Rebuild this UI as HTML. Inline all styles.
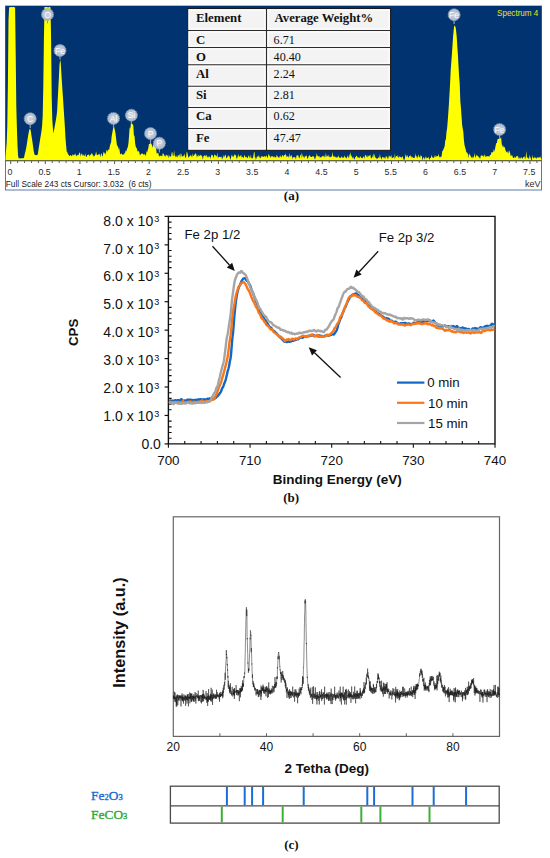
<!DOCTYPE html>
<html><head><meta charset="utf-8"><style>
html,body{margin:0;padding:0;background:#fff;}
body{width:550px;height:858px;overflow:hidden;}
svg{display:block;font-family:"Liberation Sans",sans-serif;}
</style></head><body>
<svg width="550" height="858" viewBox="0 0 550 858">
<defs><radialGradient id="lg" cx="0.5" cy="0.5" r="0.5"><stop offset="0" stop-color="#cdd5e1"/><stop offset="0.75" stop-color="#b4bfd0"/><stop offset="1" stop-color="#a3b0c4"/></radialGradient></defs>
<rect x="5.5" y="6.0" width="536.0" height="184.0" fill="#fff" stroke="#5a7aa6" stroke-width="1"/>
<rect x="5.5" y="6.0" width="536.0" height="154.5" fill="#013370"/>
<path d="M5.5,160.5 L5.5,157.24 L6.1,149.66 L6.7,142.43 L7.3,125.27 L7.9,82.77 L8.5,20.14 L9.1,7.68 L9.7,7.02 L10.3,7.16 L10.9,7 L11.5,7 L12.1,7 L12.7,7.14 L13.3,7 L13.9,7.12 L14.5,7.44 L15.1,7.37 L15.7,53.56 L16.3,106.26 L16.9,127.76 L17.5,145.33 L18.1,155.81 L18.7,158.57 L19.3,158.14 L19.9,158.17 L20.5,158.53 L21.1,158.42 L21.7,157.96 L22.3,158.22 L22.9,158.34 L23.5,158.13 L24.1,157.2 L24.7,154.15 L25.3,152.08 L25.9,149.51 L26.5,146.13 L27.1,142.47 L27.7,138.22 L28.3,134.75 L28.9,131.48 L29.5,129.21 L30.1,128.59 L30.7,130.45 L31.3,134.72 L31.9,138.31 L32.5,142.23 L33.1,146.55 L33.7,150.95 L34.3,153.74 L34.9,155.04 L35.5,154.89 L36.1,155.14 L36.7,155.06 L37.3,155.21 L37.9,153.8 L38.5,149.41 L39.1,145.84 L39.7,142.11 L40.3,138.31 L40.9,134.87 L41.5,131 L42.1,125.97 L42.7,115.56 L43.3,86.67 L43.9,40.05 L44.5,7 L45.1,7 L45.7,7 L46.3,7.35 L46.9,7 L47.5,7 L48.1,7.84 L48.7,7 L49.3,7 L49.9,7 L50.5,7.45 L51.1,39.94 L51.7,96.21 L52.3,119.67 L52.9,127.97 L53.5,133.4 L54.1,129.85 L54.7,126.59 L55.3,123.22 L55.9,119.86 L56.5,116.2 L57.1,111.4 L57.7,99.92 L58.3,88.75 L58.9,77.44 L59.5,64.83 L60.1,59.99 L60.7,62.48 L61.3,72.3 L61.9,81.75 L62.5,90.99 L63.1,99.49 L63.7,109.02 L64.3,118.04 L64.9,127.21 L65.5,138.18 L66.1,145.34 L66.7,151.41 L67.3,152.03 L67.9,153.9 L68.5,154.61 L69.1,155.68 L69.7,156.04 L70.3,155.17 L70.9,155.12 L71.5,156.29 L72.1,156.05 L72.7,154.02 L73.3,154.96 L73.9,155.4 L74.5,153.98 L75.1,155.68 L75.7,152.89 L76.3,156.59 L76.9,155.57 L77.5,155.28 L78.1,154.54 L78.7,155.15 L79.3,152.7 L79.9,152.61 L80.5,156.97 L81.1,152.52 L81.7,155.02 L82.3,153.95 L82.9,156.25 L83.5,154.17 L84.1,156.27 L84.7,155.43 L85.3,153.26 L85.9,156.87 L86.5,157.12 L87.1,155.16 L87.7,154.88 L88.3,155.03 L88.9,153.96 L89.5,156.66 L90.1,154.52 L90.7,155.16 L91.3,152.81 L91.9,154.4 L92.5,153.55 L93.1,156.85 L93.7,155.01 L94.3,156.46 L94.9,155.22 L95.5,154.3 L96.1,151.18 L96.7,154.47 L97.3,155.21 L97.9,154.71 L98.5,154.81 L99.1,153.4 L99.7,154.14 L100.3,157.32 L100.9,154.28 L101.5,153.03 L102.1,155.53 L102.7,156.86 L103.3,153.06 L103.9,151.42 L104.5,153.85 L105.1,152.16 L105.7,155.13 L106.3,150.93 L106.9,149.4 L107.5,152.08 L108.1,148.97 L108.7,150.19 L109.3,149.19 L109.9,145.82 L110.5,143.66 L111.1,142.55 L111.7,136.07 L112.3,133.06 L112.9,129.31 L113.5,126.91 L114.1,126.82 L114.7,129.39 L115.3,132.3 L115.9,136.55 L116.5,142.08 L117.1,145.95 L117.7,145.57 L118.3,149.87 L118.9,146.64 L119.5,150.1 L120.1,153.85 L120.7,154.38 L121.3,153.27 L121.9,154.05 L122.5,154.7 L123.1,154.69 L123.7,154.59 L124.3,152.43 L124.9,154.46 L125.5,150.13 L126.1,151.83 L126.7,149.88 L127.3,148.31 L127.9,146.81 L128.5,142.7 L129.1,135.02 L129.7,126.93 L130.3,128.88 L130.9,123.44 L131.5,123.41 L132.1,123.49 L132.7,124.53 L133.3,125.14 L133.9,135.39 L134.5,135.86 L135.1,143.03 L135.7,146.49 L136.3,147.65 L136.9,148.48 L137.5,151.44 L138.1,151.29 L138.7,151.08 L139.3,152.23 L139.9,155.06 L140.5,154.95 L141.1,153.34 L141.7,153.9 L142.3,153.51 L142.9,153.64 L143.5,154.97 L144.1,153.56 L144.7,154.82 L145.3,154.48 L145.9,156.19 L146.5,150.83 L147.1,152.85 L147.7,150.03 L148.3,148.19 L148.9,144.24 L149.5,143.72 L150.1,144.2 L150.7,141.57 L151.3,144.04 L151.9,144.85 L152.5,147.99 L153.1,144.28 L153.7,144.8 L154.3,146.92 L154.9,145.66 L155.5,144.89 L156.1,148.35 L156.7,153.68 L157.3,153.36 L157.9,152.79 L158.5,153.74 L159.1,156.81 L159.7,155.75 L160.3,155.72 L160.9,155.65 L161.5,155.82 L162.1,156.85 L162.7,153.24 L163.3,153.39 L163.9,154.5 L164.5,156.54 L165.1,154.47 L165.7,157.32 L166.3,154.25 L166.9,155.73 L167.5,155.91 L168.1,154.21 L168.7,158.18 L169.3,156.18 L169.9,155.36 L170.5,156.97 L171.1,156.47 L171.7,152.59 L172.3,152.12 L172.9,155.92 L173.5,156.12 L174.1,150.16 L174.7,155.68 L175.3,155.8 L175.9,157.59 L176.5,156.49 L177.1,154.75 L177.7,158.05 L178.3,155.35 L178.9,155.58 L179.5,153.73 L180.1,158.14 L180.7,153.56 L181.3,153.8 L181.9,156.78 L182.5,156.27 L183.1,156.43 L183.7,155.82 L184.3,153.52 L184.9,156.23 L185.5,158.13 L186.1,156.9 L186.7,151.71 L187.3,152.57 L187.9,155.37 L188.5,157.99 L189.1,156.87 L189.7,156.3 L190.3,155.77 L190.9,154.79 L191.5,156.15 L192.1,157.38 L192.7,153.35 L193.3,155.96 L193.9,155.97 L194.5,154.17 L195.1,154.2 L195.7,152.99 L196.3,154.2 L196.9,157.44 L197.5,155.29 L198.1,157.05 L198.7,154.43 L199.3,155.91 L199.9,155.72 L200.5,154.57 L201.1,156.33 L201.7,155.04 L202.3,156.94 L202.9,159.63 L203.5,156.01 L204.1,156.09 L204.7,155 L205.3,156.78 L205.9,154.75 L206.5,154.93 L207.1,158.04 L207.7,155.88 L208.3,157.79 L208.9,155.78 L209.5,156.73 L210.1,157.12 L210.7,158.94 L211.3,154 L211.9,155.64 L212.5,154.66 L213.1,156.48 L213.7,158.35 L214.3,153.89 L214.9,155.21 L215.5,155.32 L216.1,155.78 L216.7,156.82 L217.3,152.44 L217.9,158 L218.5,157.34 L219.1,156.57 L219.7,156.91 L220.3,157.23 L220.9,156.86 L221.5,156.53 L222.1,159.41 L222.7,157.75 L223.3,157.05 L223.9,154.79 L224.5,157.49 L225.1,154.46 L225.7,155.16 L226.3,158.1 L226.9,157.91 L227.5,156.8 L228.1,154.78 L228.7,156.52 L229.3,156.12 L229.9,157.84 L230.5,159.95 L231.1,157.29 L231.7,154.67 L232.3,155.49 L232.9,156.95 L233.5,156.79 L234.1,155.53 L234.7,154.01 L235.3,155.53 L235.9,154.69 L236.5,158.41 L237.1,158.44 L237.7,156.42 L238.3,153.81 L238.9,156.87 L239.5,156.53 L240.1,156.6 L240.7,155.35 L241.3,155.17 L241.9,158.08 L242.5,156.8 L243.1,157.33 L243.7,158.35 L244.3,154.8 L244.9,156.03 L245.5,157.28 L246.1,157.57 L246.7,156.57 L247.3,158.4 L247.9,157.33 L248.5,155.48 L249.1,155.85 L249.7,158.11 L250.3,157.67 L250.9,154.6 L251.5,158.82 L252.1,157.84 L252.7,158.81 L253.3,156.57 L253.9,152.53 L254.5,151.66 L255.1,160.37 L255.7,156.84 L256.3,159.14 L256.9,156.23 L257.5,157.29 L258.1,154.9 L258.7,156.58 L259.3,158.36 L259.9,155.45 L260.5,158.47 L261.1,157.52 L261.7,155.72 L262.3,156.43 L262.9,156.48 L263.5,157.02 L264.1,156.38 L264.7,156.01 L265.3,157.45 L265.9,155.75 L266.5,155.41 L267.1,157.02 L267.7,158.23 L268.3,155.1 L268.9,153.79 L269.5,156.24 L270.1,155.82 L270.7,158.2 L271.3,156.41 L271.9,155.97 L272.5,156.07 L273.1,157.59 L273.7,156.79 L274.3,156.11 L274.9,157.85 L275.5,156.89 L276.1,157.87 L276.7,154.64 L277.3,155.68 L277.9,156.96 L278.5,157.16 L279.1,158.34 L279.7,155.91 L280.3,157.04 L280.9,154.85 L281.5,157.94 L282.1,155.69 L282.7,154.75 L283.3,157.02 L283.9,155.37 L284.5,155.11 L285.1,155.57 L285.7,153.14 L286.3,155.63 L286.9,157.59 L287.5,156.05 L288.1,156.16 L288.7,157.85 L289.3,152.64 L289.9,157.66 L290.5,155.83 L291.1,155.86 L291.7,154.71 L292.3,159.52 L292.9,156.68 L293.5,157.41 L294.1,157.06 L294.7,157.3 L295.3,157.16 L295.9,159.58 L296.5,155.75 L297.1,155.07 L297.7,155.78 L298.3,155.36 L298.9,158.07 L299.5,158.16 L300.1,155.85 L300.7,155.29 L301.3,152.4 L301.9,158.91 L302.5,153.43 L303.1,157.78 L303.7,155.7 L304.3,158.45 L304.9,155.7 L305.5,156.73 L306.1,155.14 L306.7,155.83 L307.3,158.9 L307.9,158.17 L308.5,156.58 L309.1,155.97 L309.7,154.64 L310.3,156.59 L310.9,157.06 L311.5,156.99 L312.1,156.98 L312.7,155.64 L313.3,157.01 L313.9,155.86 L314.5,158.78 L315.1,159.53 L315.7,156.92 L316.3,156.1 L316.9,152.88 L317.5,156.31 L318.1,156.13 L318.7,156.41 L319.3,155.74 L319.9,157.89 L320.5,156.96 L321.1,157.42 L321.7,156.86 L322.3,156.15 L322.9,155.87 L323.5,156.79 L324.1,155.03 L324.7,157.4 L325.3,157.09 L325.9,152.55 L326.5,157.19 L327.1,155.29 L327.7,156.3 L328.3,156.72 L328.9,154.4 L329.5,157.22 L330.1,157.3 L330.7,156.89 L331.3,156.55 L331.9,156.61 L332.5,151.66 L333.1,156.75 L333.7,156.19 L334.3,157.22 L334.9,155.53 L335.5,157.41 L336.1,157.29 L336.7,157.86 L337.3,156.42 L337.9,157.82 L338.5,154.94 L339.1,157.7 L339.7,157.42 L340.3,157.47 L340.9,158.26 L341.5,156.25 L342.1,156.76 L342.7,157.93 L343.3,157.66 L343.9,157.37 L344.5,155.13 L345.1,157.8 L345.7,156.93 L346.3,158.41 L346.9,157.4 L347.5,155.07 L348.1,158.33 L348.7,156.91 L349.3,153.81 L349.9,157.59 L350.5,152.09 L351.1,155.41 L351.7,156.27 L352.3,158.75 L352.9,156.62 L353.5,157.45 L354.1,159.37 L354.7,159.17 L355.3,156.97 L355.9,156.79 L356.5,155.46 L357.1,156.2 L357.7,157.65 L358.3,157.61 L358.9,157.24 L359.5,158.39 L360.1,156.1 L360.7,157.03 L361.3,158.05 L361.9,157.86 L362.5,158.49 L363.1,156.55 L363.7,156.7 L364.3,158.8 L364.9,155.8 L365.5,154.97 L366.1,155.18 L366.7,157.03 L367.3,157.5 L367.9,154.89 L368.5,156.63 L369.1,155.14 L369.7,155.98 L370.3,154.17 L370.9,158.13 L371.5,158.27 L372.1,157.6 L372.7,156.32 L373.3,153.16 L373.9,158.08 L374.5,153.51 L375.1,156.94 L375.7,157.81 L376.3,157.99 L376.9,159.31 L377.5,158.58 L378.1,157.51 L378.7,157.49 L379.3,158.12 L379.9,154.08 L380.5,157.05 L381.1,158.28 L381.7,159.64 L382.3,156.89 L382.9,157.04 L383.5,157.36 L384.1,158.85 L384.7,157.06 L385.3,159.01 L385.9,155.84 L386.5,156.86 L387.1,156.84 L387.7,159.09 L388.3,158.46 L388.9,155.14 L389.5,155.91 L390.1,157.54 L390.7,156.24 L391.3,155.12 L391.9,158.45 L392.5,157.74 L393.1,157.74 L393.7,156.48 L394.3,159.62 L394.9,152.96 L395.5,158.53 L396.1,155.91 L396.7,155.99 L397.3,157.37 L397.9,154.48 L398.5,157.98 L399.1,157.44 L399.7,155.9 L400.3,157.19 L400.9,156.64 L401.5,158.29 L402.1,156.28 L402.7,156.53 L403.3,158.67 L403.9,160.01 L404.5,159.7 L405.1,157.18 L405.7,153.87 L406.3,157.57 L406.9,154.63 L407.5,155.83 L408.1,157.25 L408.7,157.69 L409.3,156.02 L409.9,155.81 L410.5,155.23 L411.1,157.97 L411.7,156.11 L412.3,156.92 L412.9,157.38 L413.5,157.9 L414.1,157.92 L414.7,157.75 L415.3,153.22 L415.9,156.63 L416.5,155.77 L417.1,158.57 L417.7,157.06 L418.3,154.21 L418.9,156.64 L419.5,156.81 L420.1,158.01 L420.7,155.03 L421.3,155.75 L421.9,156.61 L422.5,160.39 L423.1,158.34 L423.7,156.96 L424.3,158.03 L424.9,159.77 L425.5,156.8 L426.1,156.62 L426.7,158.68 L427.3,157.74 L427.9,157.97 L428.5,156.44 L429.1,159.6 L429.7,159.32 L430.3,157.83 L430.9,157.98 L431.5,154.46 L432.1,157.92 L432.7,156.83 L433.3,157.64 L433.9,157.95 L434.5,156.59 L435.1,154.81 L435.7,157.45 L436.3,155.95 L436.9,156.41 L437.5,156.09 L438.1,156.16 L438.7,153.42 L439.3,157.76 L439.9,156.19 L440.5,156.88 L441.1,157.46 L441.7,155.51 L442.3,150.89 L442.9,150.86 L443.5,148.9 L444.1,147.83 L444.7,146.06 L445.3,140.18 L445.9,139.29 L446.5,132.05 L447.1,128.59 L447.7,121.18 L448.3,112.96 L448.9,104.29 L449.5,93.79 L450.1,83.14 L450.7,69.88 L451.3,62.13 L451.9,54.26 L452.5,45.16 L453.1,36.58 L453.7,30.03 L454.3,24.82 L454.9,26.71 L455.5,26.49 L456.1,30.7 L456.7,36.85 L457.3,46.24 L457.9,54.64 L458.5,65.65 L459.1,76.48 L459.7,83.35 L460.3,100.84 L460.9,107.4 L461.5,115.83 L462.1,124.43 L462.7,128.39 L463.3,131.44 L463.9,139.98 L464.5,145.12 L465.1,147.22 L465.7,149.36 L466.3,153.05 L466.9,151.58 L467.5,153.68 L468.1,153.75 L468.7,158.27 L469.3,153.05 L469.9,155.1 L470.5,155.58 L471.1,157.35 L471.7,157.44 L472.3,158.59 L472.9,155.72 L473.5,157.91 L474.1,156.6 L474.7,152.67 L475.3,157.74 L475.9,156.77 L476.5,154.37 L477.1,156.59 L477.7,155.13 L478.3,156.23 L478.9,157.55 L479.5,157.46 L480.1,159.11 L480.7,155.9 L481.3,155.01 L481.9,155.98 L482.5,155.72 L483.1,155.28 L483.7,157.35 L484.3,155.86 L484.9,154.01 L485.5,157.35 L486.1,156.13 L486.7,156.54 L487.3,155.97 L487.9,156.38 L488.5,155.89 L489.1,157.08 L489.7,155.62 L490.3,155.12 L490.9,154.64 L491.5,151.66 L492.1,152.73 L492.7,151.93 L493.3,151.77 L493.9,148.84 L494.5,151.67 L495.1,148.42 L495.7,145.23 L496.3,142.9 L496.9,142.95 L497.5,139.31 L498.1,139.02 L498.7,138.92 L499.3,137.4 L499.9,139.07 L500.5,138.19 L501.1,136.88 L501.7,143.38 L502.3,147.26 L502.9,144.39 L503.5,146.72 L504.1,147.64 L504.7,146.45 L505.3,149.43 L505.9,151.14 L506.5,152.46 L507.1,150.88 L507.7,152.5 L508.3,153.66 L508.9,150.59 L509.5,151.35 L510.1,153.05 L510.7,156.14 L511.3,156.01 L511.9,154.59 L512.5,156.14 L513.1,157.97 L513.7,157.69 L514.3,157.86 L514.9,156.18 L515.5,158.23 L516.1,156.86 L516.7,156.02 L517.3,156.53 L517.9,155.4 L518.5,157.92 L519.1,159.16 L519.7,157.04 L520.3,158.9 L520.9,156.9 L521.5,157.48 L522.1,158.24 L522.7,158.69 L523.3,157.04 L523.9,156.9 L524.5,156.3 L525.1,159.27 L525.7,157.06 L526.3,151.09 L526.9,157.34 L527.5,157.72 L528.1,157.84 L528.7,159.41 L529.3,154.44 L529.9,158.76 L530.5,156.27 L531.1,160.26 L531.7,160.43 L532.3,154.75 L532.9,158.03 L533.5,157.9 L534.1,158.48 L534.7,156.59 L535.3,157.56 L535.9,158.3 L536.5,158.67 L537.1,156.63 L537.7,158.1 L538.3,157.34 L538.9,157.86 L539.5,157.53 L540.1,156.22 L540.7,157.67 L541.3,158.84 L541.5,160.5 Z" fill="#ffff00"/>
<line x1="5.5" y1="160.8" x2="541.5" y2="160.8" stroke="#333" stroke-width="0.9"/>
<path d="M10.7 161.2V164 M17.62 161.2V163 M24.55 161.2V163 M31.47 161.2V163 M38.4 161.2V163 M45.32 161.2V164 M52.24 161.2V163 M59.17 161.2V163 M66.09 161.2V163 M73.02 161.2V163 M79.94 161.2V164 M86.86 161.2V163 M93.79 161.2V163 M100.71 161.2V163 M107.64 161.2V163 M114.56 161.2V164 M121.48 161.2V163 M128.41 161.2V163 M135.33 161.2V163 M142.26 161.2V163 M149.18 161.2V164 M156.1 161.2V163 M163.03 161.2V163 M169.95 161.2V163 M176.88 161.2V163 M183.8 161.2V164 M190.72 161.2V163 M197.65 161.2V163 M204.57 161.2V163 M211.5 161.2V163 M218.42 161.2V164 M225.34 161.2V163 M232.27 161.2V163 M239.19 161.2V163 M246.12 161.2V163 M253.04 161.2V164 M259.96 161.2V163 M266.89 161.2V163 M273.81 161.2V163 M280.74 161.2V163 M287.66 161.2V164 M294.58 161.2V163 M301.51 161.2V163 M308.43 161.2V163 M315.36 161.2V163 M322.28 161.2V164 M329.2 161.2V163 M336.13 161.2V163 M343.05 161.2V163 M349.98 161.2V163 M356.9 161.2V164 M363.82 161.2V163 M370.75 161.2V163 M377.67 161.2V163 M384.6 161.2V163 M391.52 161.2V164 M398.44 161.2V163 M405.37 161.2V163 M412.29 161.2V163 M419.22 161.2V163 M426.14 161.2V164 M433.06 161.2V163 M439.99 161.2V163 M446.91 161.2V163 M453.84 161.2V163 M460.76 161.2V164 M467.68 161.2V163 M474.61 161.2V163 M481.53 161.2V163 M488.46 161.2V163 M495.38 161.2V164 M502.3 161.2V163 M509.23 161.2V163 M516.15 161.2V163 M523.08 161.2V163 M530 161.2V164 M536.92 161.2V163" stroke="#444" stroke-width="0.9"/>
<text x="9.9" y="174.9" font-size="8.8" text-anchor="middle" fill="#2b2b2b">0</text>
<text x="44.52" y="174.9" font-size="8.8" text-anchor="middle" fill="#2b2b2b">0.5</text>
<text x="79.14" y="174.9" font-size="8.8" text-anchor="middle" fill="#2b2b2b">1</text>
<text x="113.76" y="174.9" font-size="8.8" text-anchor="middle" fill="#2b2b2b">1.5</text>
<text x="148.38" y="174.9" font-size="8.8" text-anchor="middle" fill="#2b2b2b">2</text>
<text x="183" y="174.9" font-size="8.8" text-anchor="middle" fill="#2b2b2b">2.5</text>
<text x="217.62" y="174.9" font-size="8.8" text-anchor="middle" fill="#2b2b2b">3</text>
<text x="252.24" y="174.9" font-size="8.8" text-anchor="middle" fill="#2b2b2b">3.5</text>
<text x="286.86" y="174.9" font-size="8.8" text-anchor="middle" fill="#2b2b2b">4</text>
<text x="321.48" y="174.9" font-size="8.8" text-anchor="middle" fill="#2b2b2b">4.5</text>
<text x="356.1" y="174.9" font-size="8.8" text-anchor="middle" fill="#2b2b2b">5</text>
<text x="390.72" y="174.9" font-size="8.8" text-anchor="middle" fill="#2b2b2b">5.5</text>
<text x="425.34" y="174.9" font-size="8.8" text-anchor="middle" fill="#2b2b2b">6</text>
<text x="459.96" y="174.9" font-size="8.8" text-anchor="middle" fill="#2b2b2b">6.5</text>
<text x="494.58" y="174.9" font-size="8.8" text-anchor="middle" fill="#2b2b2b">7</text>
<text x="529.2" y="174.9" font-size="8.8" text-anchor="middle" fill="#2b2b2b">7.5</text>
<text x="5.8" y="186.6" font-size="8.3" fill="#1a1a1a" xml:space="preserve">Full Scale 243 cts Cursor: 3.032  (6 cts)</text>
<text x="540.5" y="186.8" font-size="9" text-anchor="end" fill="#2a2a2a">keV</text>
<text x="538.3" y="16" font-size="9.6" text-anchor="end" fill="#e6e619" textLength="41.3" lengthAdjust="spacingAndGlyphs">Spectrum 4</text>
<line x1="47.5" y1="19.5" x2="47.5" y2="23.4" stroke="#8d9db5" stroke-width="1.2"/>
<circle cx="47.5" cy="14.5" r="6.0" fill="url(#lg)" stroke="#9eacc2" stroke-width="0.9" stroke-dasharray="1 0.8"/>
<text x="47.5" y="17.6" font-size="8.6" text-anchor="middle" fill="#fafcff">O</text>
<line x1="60.0" y1="55.4" x2="60.0" y2="59.6" stroke="#8d9db5" stroke-width="1.2"/>
<circle cx="60.0" cy="50.4" r="6.0" fill="url(#lg)" stroke="#9eacc2" stroke-width="0.9" stroke-dasharray="1 0.8"/>
<text x="60.0" y="53.5" font-size="8.6" text-anchor="middle" fill="#fafcff">Fe</text>
<line x1="30.2" y1="123.7" x2="30.2" y2="128" stroke="#8d9db5" stroke-width="1.2"/>
<circle cx="30.2" cy="118.7" r="6.0" fill="url(#lg)" stroke="#9eacc2" stroke-width="0.9" stroke-dasharray="1 0.8"/>
<text x="30.2" y="121.8" font-size="8.6" text-anchor="middle" fill="#fafcff">C</text>
<line x1="113.5" y1="123.4" x2="113.5" y2="128" stroke="#8d9db5" stroke-width="1.2"/>
<circle cx="113.5" cy="118.4" r="6.0" fill="url(#lg)" stroke="#9eacc2" stroke-width="0.9" stroke-dasharray="1 0.8"/>
<text x="113.5" y="121.5" font-size="8.6" text-anchor="middle" fill="#fafcff">Al</text>
<line x1="131.4" y1="120.2" x2="131.4" y2="124" stroke="#8d9db5" stroke-width="1.2"/>
<circle cx="131.4" cy="115.2" r="6.0" fill="url(#lg)" stroke="#9eacc2" stroke-width="0.9" stroke-dasharray="1 0.8"/>
<text x="131.4" y="118.3" font-size="8.6" text-anchor="middle" fill="#fafcff">Si</text>
<line x1="150.5" y1="138.6" x2="150.5" y2="143" stroke="#8d9db5" stroke-width="1.2"/>
<circle cx="150.5" cy="133.6" r="6.0" fill="url(#lg)" stroke="#9eacc2" stroke-width="0.9" stroke-dasharray="1 0.8"/>
<text x="150.5" y="136.7" font-size="8.6" text-anchor="middle" fill="#fafcff">P</text>
<line x1="159.4" y1="148.2" x2="159.4" y2="152.5" stroke="#8d9db5" stroke-width="1.2"/>
<circle cx="159.4" cy="143.2" r="6.0" fill="url(#lg)" stroke="#9eacc2" stroke-width="0.9" stroke-dasharray="1 0.8"/>
<text x="159.4" y="146.29999999999998" font-size="8.6" text-anchor="middle" fill="#fafcff">P</text>
<line x1="454.1" y1="19.8" x2="454.1" y2="24" stroke="#8d9db5" stroke-width="1.2"/>
<circle cx="454.1" cy="14.8" r="6.0" fill="url(#lg)" stroke="#9eacc2" stroke-width="0.9" stroke-dasharray="1 0.8"/>
<text x="454.1" y="17.900000000000002" font-size="8.6" text-anchor="middle" fill="#fafcff">Fe</text>
<line x1="499.6" y1="134.5" x2="499.6" y2="138.5" stroke="#8d9db5" stroke-width="1.2"/>
<circle cx="499.6" cy="129.5" r="6.0" fill="url(#lg)" stroke="#9eacc2" stroke-width="0.9" stroke-dasharray="1 0.8"/>
<text x="499.6" y="132.6" font-size="8.6" text-anchor="middle" fill="#fafcff">Fe</text>
<rect x="187.7" y="8.5" width="202.90000000000003" height="141.8" fill="#f3f3f3" stroke="#1b1b1b" stroke-width="1.1"/>
<rect x="189.2" y="10" width="75.8" height="19" fill="none" stroke="#fff" stroke-width="1"/>
<rect x="268" y="10" width="121.1" height="19" fill="none" stroke="#fff" stroke-width="1"/>
<rect x="189.2" y="32" width="75.8" height="14" fill="none" stroke="#fff" stroke-width="1"/>
<rect x="268" y="32" width="121.1" height="14" fill="none" stroke="#fff" stroke-width="1"/>
<rect x="189.2" y="49" width="75.8" height="14.2" fill="none" stroke="#fff" stroke-width="1"/>
<rect x="268" y="49" width="121.1" height="14.2" fill="none" stroke="#fff" stroke-width="1"/>
<rect x="189.2" y="66.2" width="75.8" height="18.6" fill="none" stroke="#fff" stroke-width="1"/>
<rect x="268" y="66.2" width="121.1" height="18.6" fill="none" stroke="#fff" stroke-width="1"/>
<rect x="189.2" y="87.8" width="75.8" height="18.2" fill="none" stroke="#fff" stroke-width="1"/>
<rect x="268" y="87.8" width="121.1" height="18.2" fill="none" stroke="#fff" stroke-width="1"/>
<rect x="189.2" y="109" width="75.8" height="18" fill="none" stroke="#fff" stroke-width="1"/>
<rect x="268" y="109" width="121.1" height="18" fill="none" stroke="#fff" stroke-width="1"/>
<rect x="189.2" y="130" width="75.8" height="18.8" fill="none" stroke="#fff" stroke-width="1"/>
<rect x="268" y="130" width="121.1" height="18.8" fill="none" stroke="#fff" stroke-width="1"/>
<line x1="187.7" y1="30.5" x2="390.6" y2="30.5" stroke="#2a2a2a" stroke-width="1.1"/>
<line x1="187.7" y1="47.5" x2="390.6" y2="47.5" stroke="#2a2a2a" stroke-width="1.1"/>
<line x1="187.7" y1="64.7" x2="390.6" y2="64.7" stroke="#2a2a2a" stroke-width="1.1"/>
<line x1="187.7" y1="86.3" x2="390.6" y2="86.3" stroke="#2a2a2a" stroke-width="1.1"/>
<line x1="187.7" y1="107.5" x2="390.6" y2="107.5" stroke="#2a2a2a" stroke-width="1.1"/>
<line x1="187.7" y1="128.5" x2="390.6" y2="128.5" stroke="#2a2a2a" stroke-width="1.1"/>
<line x1="266.5" y1="8.5" x2="266.5" y2="150.3" stroke="#2a2a2a" stroke-width="1.1"/>
<text x="196" y="21.7" font-family="Liberation Serif" font-weight="bold" font-size="12.8" fill="#111">Element</text>
<text x="274.6" y="21.7" font-family="Liberation Serif" font-weight="bold" font-size="12.7" fill="#111">Average Weight%</text>
<text x="196" y="43.5" font-family="Liberation Serif" font-weight="bold" font-size="12.8" fill="#111">C</text>
<text x="273.6" y="43.5" font-family="Liberation Serif" font-size="12.1" fill="#111">6.71</text>
<text x="196" y="61.4" font-family="Liberation Serif" font-weight="bold" font-size="12.8" fill="#111">O</text>
<text x="273.6" y="61.4" font-family="Liberation Serif" font-size="12.1" fill="#111">40.40</text>
<text x="196" y="78.3" font-family="Liberation Serif" font-weight="bold" font-size="12.8" fill="#111">Al</text>
<text x="273.6" y="78.3" font-family="Liberation Serif" font-size="12.1" fill="#111">2.24</text>
<text x="196" y="99.1" font-family="Liberation Serif" font-weight="bold" font-size="12.8" fill="#111">Si</text>
<text x="273.6" y="99.1" font-family="Liberation Serif" font-size="12.1" fill="#111">2.81</text>
<text x="196" y="120.3" font-family="Liberation Serif" font-weight="bold" font-size="12.8" fill="#111">Ca</text>
<text x="273.6" y="120.3" font-family="Liberation Serif" font-size="12.1" fill="#111">0.62</text>
<text x="196" y="141.9" font-family="Liberation Serif" font-weight="bold" font-size="12.8" fill="#111">Fe</text>
<text x="273.6" y="141.9" font-family="Liberation Serif" font-size="12.1" fill="#111">47.47</text>
<text x="291.4" y="200.3" font-family="Liberation Serif" font-weight="bold" font-size="13" text-anchor="middle" fill="#111">(a)</text>
<line x1="164.6" y1="443.9" x2="168.4" y2="443.9" stroke="#111" stroke-width="1.2"/>
<text x="160.9" y="448.6" font-size="14" text-anchor="end" fill="#111">0.0</text>
<line x1="164.6" y1="415.46" x2="168.4" y2="415.46" stroke="#111" stroke-width="1.2"/>
<text x="153.2" y="420.74" font-size="14" text-anchor="end" fill="#111">1.0 x 10</text>
<text x="154.2" y="416.64" font-size="9" fill="#111">3</text>
<line x1="164.6" y1="387.02" x2="168.4" y2="387.02" stroke="#111" stroke-width="1.2"/>
<text x="153.2" y="392.88" font-size="14" text-anchor="end" fill="#111">2.0 x 10</text>
<text x="154.2" y="388.78" font-size="9" fill="#111">3</text>
<line x1="164.6" y1="358.59" x2="168.4" y2="358.59" stroke="#111" stroke-width="1.2"/>
<text x="153.2" y="365.02" font-size="14" text-anchor="end" fill="#111">3.0 x 10</text>
<text x="154.2" y="360.92" font-size="9" fill="#111">3</text>
<line x1="164.6" y1="330.15" x2="168.4" y2="330.15" stroke="#111" stroke-width="1.2"/>
<text x="153.2" y="337.16" font-size="14" text-anchor="end" fill="#111">4.0 x 10</text>
<text x="154.2" y="333.06" font-size="9" fill="#111">3</text>
<line x1="164.6" y1="301.71" x2="168.4" y2="301.71" stroke="#111" stroke-width="1.2"/>
<text x="153.2" y="309.3" font-size="14" text-anchor="end" fill="#111">5.0 x 10</text>
<text x="154.2" y="305.2" font-size="9" fill="#111">3</text>
<line x1="164.6" y1="273.27" x2="168.4" y2="273.27" stroke="#111" stroke-width="1.2"/>
<text x="153.2" y="281.44" font-size="14" text-anchor="end" fill="#111">6.0 x 10</text>
<text x="154.2" y="277.34" font-size="9" fill="#111">3</text>
<line x1="164.6" y1="244.84" x2="168.4" y2="244.84" stroke="#111" stroke-width="1.2"/>
<text x="153.2" y="253.58" font-size="14" text-anchor="end" fill="#111">7.0 x 10</text>
<text x="154.2" y="249.48" font-size="9" fill="#111">3</text>
<line x1="164.6" y1="216.4" x2="168.4" y2="216.4" stroke="#111" stroke-width="1.2"/>
<text x="153.2" y="225.72" font-size="14" text-anchor="end" fill="#111">8.0 x 10</text>
<text x="154.2" y="221.62" font-size="9" fill="#111">3</text>
<path d="M168.4 438.21H171.6 M168.4 432.52H171.6 M168.4 426.84H171.6 M168.4 421.15H171.6 M168.4 409.77H171.6 M168.4 404.09H171.6 M168.4 398.4H171.6 M168.4 392.71H171.6 M168.4 381.34H171.6 M168.4 375.65H171.6 M168.4 369.96H171.6 M168.4 364.27H171.6 M168.4 352.9H171.6 M168.4 347.21H171.6 M168.4 341.52H171.6 M168.4 335.84H171.6 M168.4 324.46H171.6 M168.4 318.77H171.6 M168.4 313.09H171.6 M168.4 307.4H171.6 M168.4 296.02H171.6 M168.4 290.34H171.6 M168.4 284.65H171.6 M168.4 278.96H171.6 M168.4 267.59H171.6 M168.4 261.9H171.6 M168.4 256.21H171.6 M168.4 250.53H171.6 M168.4 239.15H171.6 M168.4 233.46H171.6 M168.4 227.78H171.6 M168.4 222.09H171.6 M168.4 443.9V447.7 M184.73 443.9V441 M201.06 443.9V441 M217.39 443.9V441 M233.72 443.9V441 M250.05 443.9V447.7 M266.38 443.9V441 M282.71 443.9V441 M299.04 443.9V441 M315.37 443.9V441 M331.7 443.9V447.7 M348.03 443.9V441 M364.36 443.9V441 M380.69 443.9V441 M397.02 443.9V441 M413.35 443.9V447.7 M429.68 443.9V441 M446.01 443.9V441 M462.34 443.9V441 M478.67 443.9V441 M495 443.9V447.7" stroke="#111" stroke-width="1.1"/>
<text x="168.4" y="464.6" font-size="13.4" text-anchor="middle" fill="#111">700</text>
<text x="250.05" y="464.6" font-size="13.4" text-anchor="middle" fill="#111">710</text>
<text x="331.7" y="464.6" font-size="13.4" text-anchor="middle" fill="#111">720</text>
<text x="413.35" y="464.6" font-size="13.4" text-anchor="middle" fill="#111">730</text>
<text x="495" y="464.6" font-size="13.4" text-anchor="middle" fill="#111">740</text>
<path d="M168.4 216.4 H495.0 V443.9 H168.4 Z" fill="none" stroke="#111" stroke-width="1.4"/>
<text x="73.1" y="332.3" font-size="13.3" font-weight="bold" text-anchor="middle" fill="#111" transform="rotate(-90 73.1 332.3) translate(0 4.8)">CPS</text>
<text x="337.3" y="483.9" font-size="13.5" font-weight="bold" text-anchor="middle" fill="#111">Binding Energy (eV)</text>
<text x="291.2" y="501.8" font-family="Liberation Serif" font-weight="bold" font-size="13" text-anchor="middle" fill="#111">(b)</text>
<path d="M169,400.88 L169.5,400.99 L170,400.57 L170.5,400.47 L171,400.65 L171.5,400.78 L172,400.63 L172.5,400.69 L173,400.85 L173.5,400.71 L174,400.72 L174.5,400.52 L175,400.37 L175.5,400.17 L176,400.44 L176.5,400.56 L177,400.55 L177.5,400.2 L178,400.08 L178.5,400.18 L179,400.3 L179.5,400.62 L180,400.95 L180.5,400.36 L181,399.36 L181.5,399.14 L182,399.77 L182.5,400.21 L183,400.33 L183.5,400.89 L184,400.72 L184.5,400.33 L185,400.35 L185.5,400.91 L186,401.03 L186.5,400.44 L187,399.82 L187.5,399.61 L188,399.87 L188.5,399.94 L189,399.63 L189.5,399.62 L190,399.71 L190.5,399.76 L191,399.85 L191.5,400.06 L192,399.95 L192.5,400.01 L193,400.26 L193.5,400.45 L194,400.07 L194.5,399.93 L195,399.84 L195.5,400.11 L196,399.79 L196.5,399.94 L197,399.86 L197.5,399.73 L198,399.34 L198.5,399.4 L199,399.75 L199.5,399.59 L200,399.21 L200.5,399.16 L201,399.35 L201.5,399.57 L202,399.72 L202.5,399.47 L203,399.26 L203.5,399.48 L204,399.83 L204.5,399.44 L205,399.27 L205.5,399.47 L206,399.79 L206.5,399.55 L207,399.04 L207.5,398.69 L208,398.73 L208.5,399.18 L209,399.3 L209.5,398.95 L210,398.33 L210.5,398.47 L211,399.09 L211.5,399.15 L212,398.79 L212.5,398.72 L213,398.92 L213.5,399.04 L214,398.92 L214.5,398.61 L215,398.16 L215.5,398.13 L216,397.51 L216.5,397.01 L217,396.55 L217.5,396.23 L218,395.61 L218.5,394.89 L219,394.55 L219.5,393.72 L220,393.07 L220.5,392.31 L221,391.56 L221.5,390.24 L222,388.56 L222.5,387.77 L223,387.07 L223.5,385.93 L224,384.26 L224.5,382.96 L225,381.86 L225.5,380.39 L226,378.62 L226.5,376.31 L227,374.27 L227.5,372.01 L228,370.13 L228.5,368.56 L229,366.55 L229.5,363.46 L230,360.63 L230.5,358.5 L231,354.53 L231.5,348.68 L232,341.79 L232.5,337.13 L233,333.31 L233.5,327.37 L234,320.62 L234.5,314.62 L235,309.51 L235.5,304.66 L236,300.54 L236.5,297.32 L237,294.57 L237.5,292.36 L238,290.16 L238.5,288.19 L239,286.91 L239.5,285.96 L240,284.9 L240.5,283.52 L241,282.35 L241.5,281.19 L242,280.25 L242.5,279.68 L243,278.87 L243.5,278.5 L244,278.36 L244.5,278.38 L245,278.2 L245.5,278.61 L246,279.71 L246.5,280.35 L247,280.87 L247.5,280.79 L248,281.57 L248.5,282.61 L249,283.82 L249.5,284.38 L250,285.14 L250.5,286.5 L251,288.01 L251.5,289.69 L252,291.03 L252.5,292.03 L253,292.93 L253.5,294.35 L254,295.95 L254.5,297.38 L255,298.78 L255.5,299.67 L256,300.97 L256.5,302.26 L257,303.55 L257.5,304.75 L258,306.58 L258.5,308.26 L259,309.32 L259.5,309.96 L260,311.54 L260.5,313.05 L261,313.85 L261.5,313.81 L262,314.58 L262.5,315.44 L263,316.39 L263.5,317.23 L264,318.62 L264.5,319.72 L265,319.96 L265.5,320.17 L266,320.53 L266.5,321.97 L267,322.9 L267.5,324 L268,324.2 L268.5,325.1 L269,326.29 L269.5,326.92 L270,326.97 L270.5,327.07 L271,327.81 L271.5,328.07 L272,329.11 L272.5,329.68 L273,330.23 L273.5,330.5 L274,331.16 L274.5,331.6 L275,331.9 L275.5,332.49 L276,332.81 L276.5,333.25 L277,333.77 L277.5,334.46 L278,335.07 L278.5,335.61 L279,336.37 L279.5,336.93 L280,337.45 L280.5,337.71 L281,338.18 L281.5,338.48 L282,339.21 L282.5,339.7 L283,340.15 L283.5,340.55 L284,341.35 L284.5,341.74 L285,341.4 L285.5,341.46 L286,341.9 L286.5,342.05 L287,341.99 L287.5,341.9 L288,341.79 L288.5,341.53 L289,341.65 L289.5,341.82 L290,341.34 L290.5,341.52 L291,341.45 L291.5,341.13 L292,340.64 L292.5,340.7 L293,340.88 L293.5,340.55 L294,340.41 L294.5,340.26 L295,340.04 L295.5,339.98 L296,339.78 L296.5,339.51 L297,339.18 L297.5,339.29 L298,339.28 L298.5,338.83 L299,338.64 L299.5,338.22 L300,337.81 L300.5,337.55 L301,337.54 L301.5,337.49 L302,337.4 L302.5,337.74 L303,337.45 L303.5,337.04 L304,336.8 L304.5,336.41 L305,336.92 L305.5,336.99 L306,336.98 L306.5,336.36 L307,336.52 L307.5,336.1 L308,335.81 L308.5,336.09 L309,336.3 L309.5,335.91 L310,335.75 L310.5,335.63 L311,335.62 L311.5,335.59 L312,335.58 L312.5,335.06 L313,334.89 L313.5,334.92 L314,335.41 L314.5,335.65 L315,335.98 L315.5,335.85 L316,335.86 L316.5,335.55 L317,335.63 L317.5,336.12 L318,336.35 L318.5,335.95 L319,335.54 L319.5,335.57 L320,335.56 L320.5,335.64 L321,335.77 L321.5,336.24 L322,336.36 L322.5,336.4 L323,336.31 L323.5,336.28 L324,336.43 L324.5,336.19 L325,335.9 L325.5,335.45 L326,335.57 L326.5,335.42 L327,335.36 L327.5,335.07 L328,335.53 L328.5,335.7 L329,335.76 L329.5,335.15 L330,335 L330.5,335.05 L331,334.91 L331.5,334.56 L332,334.38 L332.5,334.32 L333,334.44 L333.5,334.55 L334,334.34 L334.5,333.79 L335,332.86 L335.5,332.22 L336,331.34 L336.5,330.55 L337,329.48 L337.5,327.61 L338,325.75 L338.5,323.8 L339,322.84 L339.5,321.21 L340,319.93 L340.5,318.64 L341,317.84 L341.5,316.71 L342,315.14 L342.5,313.52 L343,312.43 L343.5,311.44 L344,309.87 L344.5,308.5 L345,307.59 L345.5,306.98 L346,305.63 L346.5,304.57 L347,303.14 L347.5,302.08 L348,300.79 L348.5,300 L349,299.14 L349.5,298.14 L350,296.99 L350.5,296.11 L351,296 L351.5,295.89 L352,295.26 L352.5,294.65 L353,294.51 L353.5,295.05 L354,294.48 L354.5,293.76 L355,293.58 L355.5,293.78 L356,293.48 L356.5,293.43 L357,294.29 L357.5,294.69 L358,294.87 L358.5,295.1 L359,295.94 L359.5,296.34 L360,296.85 L360.5,296.83 L361,297.1 L361.5,297.36 L362,298.28 L362.5,298.98 L363,299.22 L363.5,299.49 L364,300.16 L364.5,300.85 L365,301.15 L365.5,301.51 L366,301.76 L366.5,302.36 L367,303.2 L367.5,303.98 L368,304.6 L368.5,304.91 L369,305.34 L369.5,305.61 L370,306.84 L370.5,307.25 L371,307.67 L371.5,308.05 L372,308.97 L372.5,309.5 L373,309.56 L373.5,309.22 L374,309.45 L374.5,310.04 L375,310.74 L375.5,310.76 L376,311.59 L376.5,312.4 L377,312.86 L377.5,313.07 L378,313.38 L378.5,313.8 L379,313.93 L379.5,314.21 L380,314.68 L380.5,315.13 L381,315.39 L381.5,315.74 L382,315.95 L382.5,316.27 L383,316.51 L383.5,317.28 L384,317.47 L384.5,317.9 L385,318.06 L385.5,318.28 L386,317.97 L386.5,318.28 L387,318.67 L387.5,318.77 L388,318.53 L388.5,318.62 L389,318.97 L389.5,319.67 L390,320.45 L390.5,321.03 L391,321.04 L391.5,320.81 L392,320.78 L392.5,321.14 L393,321.97 L393.5,322.45 L394,322.29 L394.5,321.9 L395,321.78 L395.5,321.79 L396,321.86 L396.5,322.19 L397,322.93 L397.5,323.22 L398,323.43 L398.5,323.59 L399,323.69 L399.5,323.68 L400,323.61 L400.5,323.48 L401,323.15 L401.5,323.1 L402,323.17 L402.5,323.09 L403,323.16 L403.5,323.38 L404,323.28 L404.5,323.19 L405,322.84 L405.5,323.01 L406,323.32 L406.5,323.74 L407,323.73 L407.5,323.74 L408,323.59 L408.5,323.38 L409,323.39 L409.5,323.81 L410,323.97 L410.5,324.36 L411,324.24 L411.5,324.13 L412,323.88 L412.5,323.84 L413,323.26 L413.5,322.6 L414,322.58 L414.5,323.04 L415,323.37 L415.5,323.24 L416,322.83 L416.5,322.78 L417,322.26 L417.5,322.13 L418,322.12 L418.5,322.21 L419,322.47 L419.5,322.33 L420,322.03 L420.5,321.19 L421,321.64 L421.5,321.74 L422,321.9 L422.5,321.78 L423,321.91 L423.5,321.32 L424,320.82 L424.5,321.08 L425,321.14 L425.5,320.77 L426,320.3 L426.5,320.73 L427,320.97 L427.5,321.06 L428,320.62 L428.5,320.6 L429,320.68 L429.5,320.52 L430,320.51 L430.5,321.2 L431,321.54 L431.5,321.12 L432,321.16 L432.5,321.31 L433,320.87 L433.5,320.49 L434,321.03 L434.5,321.7 L435,322.44 L435.5,323.04 L436,323.19 L436.5,323.39 L437,324.21 L437.5,325.18 L438,325.53 L438.5,325.39 L439,325.54 L439.5,325.43 L440,325.67 L440.5,325.76 L441,326.33 L441.5,326.49 L442,326.3 L442.5,326 L443,326.27 L443.5,326.34 L444,326.01 L444.5,325.61 L445,325.51 L445.5,325.79 L446,326.45 L446.5,326.99 L447,326.79 L447.5,326.44 L448,326.29 L448.5,326.1 L449,326.24 L449.5,326.54 L450,326.92 L450.5,326.6 L451,326.27 L451.5,326.08 L452,326.62 L452.5,326.85 L453,326.41 L453.5,326.03 L454,326.69 L454.5,327.48 L455,327.62 L455.5,327.34 L456,326.81 L456.5,326.19 L457,326.04 L457.5,326.62 L458,327.31 L458.5,327.89 L459,327.98 L459.5,328.15 L460,328.15 L460.5,328.1 L461,328.17 L461.5,328.28 L462,327.83 L462.5,327.41 L463,327.89 L463.5,328.03 L464,328.07 L464.5,328.29 L465,328.77 L465.5,328.52 L466,328.55 L466.5,328.87 L467,329.51 L467.5,329.84 L468,329.53 L468.5,328.89 L469,328.99 L469.5,329.85 L470,330.17 L470.5,329.92 L471,329.84 L471.5,329.8 L472,329.46 L472.5,328.63 L473,328.36 L473.5,328.91 L474,329.04 L474.5,328.81 L475,328.04 L475.5,328.21 L476,328.45 L476.5,328.69 L477,328.66 L477.5,328.6 L478,328.67 L478.5,328.77 L479,328.78 L479.5,328.44 L480,327.71 L480.5,327.21 L481,327.27 L481.5,327.34 L482,327.98 L482.5,328.4 L483,328.25 L483.5,327.3 L484,327.15 L484.5,326.81 L485,326.4 L485.5,326.23 L486,326.44 L486.5,326.18 L487,325.8 L487.5,326.05 L488,326.15 L488.5,326.16 L489,326.04 L489.5,325.91 L490,325.9 L490.5,325.56 L491,324.96 L491.5,324.13 L492,323.78 L492.5,323.86 L493,324.44 L493.5,324.83 L494,324.62 L494.5,324.2" fill="none" stroke="#0f67c6" stroke-width="2.4" stroke-linejoin="round"/>
<path d="M169,402.14 L169.5,401.99 L170,401.41 L170.5,401.78 L171,402.44 L171.5,402.87 L172,402.53 L172.5,402.41 L173,402.32 L173.5,402.3 L174,402.28 L174.5,402.23 L175,401.83 L175.5,401.96 L176,402.11 L176.5,402.36 L177,402.17 L177.5,402.13 L178,401.85 L178.5,402.1 L179,402.24 L179.5,402.46 L180,402.37 L180.5,402.1 L181,402.09 L181.5,402.59 L182,402.53 L182.5,401.69 L183,400.87 L183.5,401.44 L184,402.03 L184.5,402.55 L185,402.59 L185.5,402.57 L186,402.35 L186.5,402.15 L187,402.25 L187.5,402 L188,401.79 L188.5,401.7 L189,402.4 L189.5,402.43 L190,401.93 L190.5,401.37 L191,401.79 L191.5,402.09 L192,402.41 L192.5,401.88 L193,401.94 L193.5,402.09 L194,402.18 L194.5,401.77 L195,401.91 L195.5,402.32 L196,402.42 L196.5,402.73 L197,402.87 L197.5,402.41 L198,401.64 L198.5,401.67 L199,401.78 L199.5,401.84 L200,401.65 L200.5,401.83 L201,401.67 L201.5,401.2 L202,400.45 L202.5,400.86 L203,401.47 L203.5,402.25 L204,402.06 L204.5,401.73 L205,401.42 L205.5,401.46 L206,401.27 L206.5,400.84 L207,401.25 L207.5,401.76 L208,401.87 L208.5,401.31 L209,400.9 L209.5,400.84 L210,400.84 L210.5,400.58 L211,400.13 L211.5,399.81 L212,399.75 L212.5,399.87 L213,399.66 L213.5,399.45 L214,398.8 L214.5,398.29 L215,397.07 L215.5,396.18 L216,395.16 L216.5,394.13 L217,392.78 L217.5,391.37 L218,390.05 L218.5,388.54 L219,387.13 L219.5,385.95 L220,384.95 L220.5,383.56 L221,382.38 L221.5,380.82 L222,378.87 L222.5,377.14 L223,375.45 L223.5,373.95 L224,371.8 L224.5,370.21 L225,367.83 L225.5,366.19 L226,364.28 L226.5,362.25 L227,359.94 L227.5,357.55 L228,354.55 L228.5,350.53 L229,346.42 L229.5,342.16 L230,338.71 L230.5,335.78 L231,332.03 L231.5,326.75 L232,321.04 L232.5,315.95 L233,311.92 L233.5,308.48 L234,305.7 L234.5,303.24 L235,300.38 L235.5,297.54 L236,294.77 L236.5,293.18 L237,291.47 L237.5,290.22 L238,288.46 L238.5,287.19 L239,286.26 L239.5,285.68 L240,285.19 L240.5,284.19 L241,283.63 L241.5,282.84 L242,282.85 L242.5,282.37 L243,282.45 L243.5,281.94 L244,282.26 L244.5,282.5 L245,283.33 L245.5,284.11 L246,285.2 L246.5,286.29 L247,287.44 L247.5,288.59 L248,289.51 L248.5,290.1 L249,290.86 L249.5,292.09 L250,293.18 L250.5,294.55 L251,295.84 L251.5,297.26 L252,298.36 L252.5,299.71 L253,300.83 L253.5,301.39 L254,302.25 L254.5,303.4 L255,304.45 L255.5,305.55 L256,306.77 L256.5,307.54 L257,308.22 L257.5,309.04 L258,310.7 L258.5,312.09 L259,313.12 L259.5,313.52 L260,314.33 L260.5,315.5 L261,316.86 L261.5,317.95 L262,318.67 L262.5,319.15 L263,319.35 L263.5,320.02 L264,320.98 L264.5,322.13 L265,322.5 L265.5,323.05 L266,324.27 L266.5,325.2 L267,325.29 L267.5,325.65 L268,325.94 L268.5,326.6 L269,326.85 L269.5,327.92 L270,328.24 L270.5,329.03 L271,329.53 L271.5,329.73 L272,329.3 L272.5,329.59 L273,330.84 L273.5,331.87 L274,332.29 L274.5,332.35 L275,332.87 L275.5,333.4 L276,333.88 L276.5,333.86 L277,334.32 L277.5,335.09 L278,335.41 L278.5,335.85 L279,336.37 L279.5,336.84 L280,336.21 L280.5,336.5 L281,337.32 L281.5,337.99 L282,337.72 L282.5,338.1 L283,338.65 L283.5,339.1 L284,339.76 L284.5,340.83 L285,341.27 L285.5,340.57 L286,340.21 L286.5,339.58 L287,339.48 L287.5,339.33 L288,339.47 L288.5,339.02 L289,339.25 L289.5,339.68 L290,340 L290.5,340.03 L291,339.81 L291.5,339.31 L292,338.63 L292.5,338.64 L293,339.13 L293.5,339.51 L294,339.59 L294.5,339.14 L295,338.86 L295.5,338.52 L296,338.4 L296.5,338.78 L297,339.24 L297.5,339.13 L298,338.26 L298.5,337.89 L299,337.61 L299.5,337.59 L300,337.27 L300.5,337.19 L301,336.75 L301.5,336.7 L302,336.35 L302.5,336.01 L303,335.74 L303.5,335.8 L304,336 L304.5,336.17 L305,336.62 L305.5,336.91 L306,336.71 L306.5,336.38 L307,336.04 L307.5,336.25 L308,336.31 L308.5,336.03 L309,335.67 L309.5,335.84 L310,335.49 L310.5,334.85 L311,334.66 L311.5,334.82 L312,334.61 L312.5,334.55 L313,335.1 L313.5,335.51 L314,336.3 L314.5,336.29 L315,336.29 L315.5,335.88 L316,336 L316.5,335.55 L317,335.07 L317.5,334.85 L318,335.44 L318.5,336.41 L319,336.86 L319.5,336.79 L320,336.31 L320.5,336.47 L321,336.89 L321.5,336.99 L322,336.52 L322.5,336.04 L323,336.42 L323.5,336.68 L324,336.76 L324.5,336.41 L325,336.38 L325.5,336.2 L326,335.65 L326.5,335.06 L327,334.61 L327.5,334.79 L328,335.57 L328.5,335.52 L329,334.95 L329.5,334.47 L330,334.43 L330.5,334.06 L331,333.4 L331.5,333.29 L332,332.69 L332.5,332.16 L333,331.37 L333.5,330.67 L334,329.36 L334.5,328.17 L335,327.72 L335.5,327.39 L336,326.67 L336.5,325.39 L337,324.41 L337.5,323.63 L338,322.91 L338.5,322.21 L339,321.07 L339.5,319.58 L340,317.64 L340.5,316.81 L341,316.15 L341.5,315.54 L342,314.32 L342.5,313.48 L343,312.44 L343.5,311.02 L344,309.39 L344.5,308.2 L345,306.88 L345.5,305.81 L346,304.91 L346.5,304.29 L347,302.72 L347.5,301.18 L348,299.52 L348.5,298.37 L349,297.37 L349.5,297.02 L350,296.65 L350.5,296.54 L351,296.6 L351.5,296.27 L352,296.03 L352.5,295.33 L353,294.79 L353.5,294.45 L354,295 L354.5,295.57 L355,295.29 L355.5,295.21 L356,295.39 L356.5,296.24 L357,296.53 L357.5,296.77 L358,296.6 L358.5,296.77 L359,296.93 L359.5,297.62 L360,297.86 L360.5,297.98 L361,298.29 L361.5,299.36 L362,300.11 L362.5,300.36 L363,300.33 L363.5,300.93 L364,301.6 L364.5,302.55 L365,303.02 L365.5,303.13 L366,303.08 L366.5,303.37 L367,303.83 L367.5,304.77 L368,305.9 L368.5,306.38 L369,306.83 L369.5,307.39 L370,307.8 L370.5,307.85 L371,308.33 L371.5,308.79 L372,308.66 L372.5,309.05 L373,309.88 L373.5,310.19 L374,310.52 L374.5,311.26 L375,312.16 L375.5,312.39 L376,312.64 L376.5,312.93 L377,313.17 L377.5,313.95 L378,314.32 L378.5,314.6 L379,314.82 L379.5,315.32 L380,315.44 L380.5,315.44 L381,315.66 L381.5,316.13 L382,316.9 L382.5,317.23 L383,318.13 L383.5,318.53 L384,318.78 L384.5,318.39 L385,318.68 L385.5,319.21 L386,319.56 L386.5,320.08 L387,320.44 L387.5,320.55 L388,320.56 L388.5,320.55 L389,321.5 L389.5,321.66 L390,321.6 L390.5,320.75 L391,320.72 L391.5,321.09 L392,321.59 L392.5,321.81 L393,322 L393.5,322.44 L394,323.3 L394.5,323.4 L395,323.28 L395.5,323 L396,323.17 L396.5,323.1 L397,323.25 L397.5,323.88 L398,324.31 L398.5,324.37 L399,324.34 L399.5,324.56 L400,324.62 L400.5,324.55 L401,324.36 L401.5,324.47 L402,324.62 L402.5,324.71 L403,324.24 L403.5,324.43 L404,324.76 L404.5,325.62 L405,325.36 L405.5,325.26 L406,324.6 L406.5,324.71 L407,324.76 L407.5,324.72 L408,324.52 L408.5,324.43 L409,324.65 L409.5,324.78 L410,324.98 L410.5,325.14 L411,325 L411.5,324.59 L412,324.04 L412.5,323.69 L413,323.61 L413.5,323.97 L414,324.07 L414.5,323.76 L415,323.62 L415.5,323.6 L416,323.55 L416.5,323.31 L417,323.6 L417.5,323.26 L418,322.83 L418.5,322.86 L419,323.42 L419.5,323.44 L420,323.24 L420.5,323.65 L421,323.89 L421.5,324.04 L422,323.99 L422.5,324 L423,323.84 L423.5,323.63 L424,323.53 L424.5,323.16 L425,323.42 L425.5,323.62 L426,323.65 L426.5,323.19 L427,323.67 L427.5,324.24 L428,324.47 L428.5,323.95 L429,323.53 L429.5,323.71 L430,324.24 L430.5,324.45 L431,324.71 L431.5,325.22 L432,325.49 L432.5,325.18 L433,325.15 L433.5,325.61 L434,325.94 L434.5,325.82 L435,326.19 L435.5,326.72 L436,327.49 L436.5,327.73 L437,327.83 L437.5,327.74 L438,327.89 L438.5,328.36 L439,328.48 L439.5,328.32 L440,328.34 L440.5,328.45 L441,328.59 L441.5,328.33 L442,328.58 L442.5,328.78 L443,329.16 L443.5,329.3 L444,329.76 L444.5,330.45 L445,330.74 L445.5,330.34 L446,329.93 L446.5,329.96 L447,330.42 L447.5,330.4 L448,330.38 L448.5,330.26 L449,330.37 L449.5,330.19 L450,330.14 L450.5,330.43 L451,331.23 L451.5,331.47 L452,331.33 L452.5,331.24 L453,331.55 L453.5,332.05 L454,332.17 L454.5,332.02 L455,331.96 L455.5,332.32 L456,332.27 L456.5,331.9 L457,331.27 L457.5,331.2 L458,331.11 L458.5,331.45 L459,331.52 L459.5,331.71 L460,331.82 L460.5,332.1 L461,332.3 L461.5,332.24 L462,331.84 L462.5,332.08 L463,332.77 L463.5,333.04 L464,332.8 L464.5,332.27 L465,331.91 L465.5,331.76 L466,332.56 L466.5,332.83 L467,332.53 L467.5,332.58 L468,332.57 L468.5,332.64 L469,332.58 L469.5,332.95 L470,332.79 L470.5,333.3 L471,333.28 L471.5,332.88 L472,332.3 L472.5,332.4 L473,332.14 L473.5,332.5 L474,332.93 L474.5,332.73 L475,332.06 L475.5,332.18 L476,332.74 L476.5,332.54 L477,332.23 L477.5,332.23 L478,332.58 L478.5,332.59 L479,332.01 L479.5,332.05 L480,332.15 L480.5,332.72 L481,332.93 L481.5,332.8 L482,331.76 L482.5,331.11 L483,331.16 L483.5,331.16 L484,330.62 L484.5,330.91 L485,331.03 L485.5,330.7 L486,330.06 L486.5,329.89 L487,330.1 L487.5,330.12 L488,330.02 L488.5,329.99 L489,329.99 L489.5,330.21 L490,330.39 L490.5,330.41 L491,329.91 L491.5,329.57 L492,329.84 L492.5,329.96 L493,329.81 L493.5,329.54 L494,329.53 L494.5,329.46" fill="none" stroke="#fb7616" stroke-width="2.4" stroke-linejoin="round"/>
<path d="M169,403.34 L169.5,403.09 L170,402.72 L170.5,403.12 L171,402.98 L171.5,402.67 L172,402.59 L172.5,402.57 L173,403.72 L173.5,404.14 L174,404.02 L174.5,403.16 L175,402.96 L175.5,402.77 L176,402.71 L176.5,403.02 L177,403.26 L177.5,403.51 L178,403.44 L178.5,403.41 L179,403.55 L179.5,403.83 L180,403.63 L180.5,403.16 L181,403.17 L181.5,403.77 L182,403.85 L182.5,403.5 L183,403.29 L183.5,403.24 L184,403.08 L184.5,403.09 L185,403.5 L185.5,403.56 L186,403.47 L186.5,402.74 L187,402.68 L187.5,402.59 L188,402.7 L188.5,402.47 L189,402.98 L189.5,403.28 L190,402.88 L190.5,402.68 L191,402.84 L191.5,403.38 L192,403.65 L192.5,403.65 L193,403.53 L193.5,403.38 L194,403.02 L194.5,402.83 L195,403.11 L195.5,403.26 L196,402.89 L196.5,402.75 L197,402.3 L197.5,402.41 L198,402.7 L198.5,402.86 L199,402.54 L199.5,402.32 L200,402.77 L200.5,402.4 L201,402.18 L201.5,402.23 L202,403.05 L202.5,402.78 L203,402.23 L203.5,402.14 L204,402.52 L204.5,402.88 L205,402.67 L205.5,402.63 L206,402.06 L206.5,402.42 L207,402.37 L207.5,402.23 L208,401.29 L208.5,401.33 L209,401.58 L209.5,401.77 L210,401.22 L210.5,400.53 L211,399.38 L211.5,398.01 L212,396.87 L212.5,396.49 L213,395.66 L213.5,394.62 L214,393.39 L214.5,392.83 L215,392.11 L215.5,390.84 L216,389.1 L216.5,387.68 L217,386.91 L217.5,385.95 L218,384.24 L218.5,382.06 L219,380.08 L219.5,378.07 L220,376.23 L220.5,373.96 L221,371.81 L221.5,369.61 L222,367.9 L222.5,365.97 L223,364.45 L223.5,362.54 L224,360.18 L224.5,356.27 L225,352.37 L225.5,348.29 L226,344.09 L226.5,339.51 L227,336.84 L227.5,334.8 L228,332.3 L228.5,328.64 L229,325.08 L229.5,322.03 L230,318.82 L230.5,315.52 L231,310.65 L231.5,305.13 L232,299.87 L232.5,296.18 L233,292.38 L233.5,288.97 L234,285.21 L234.5,282.27 L235,279.81 L235.5,278.49 L236,277.22 L236.5,275.95 L237,274.5 L237.5,273.9 L238,273.4 L238.5,272.77 L239,272.37 L239.5,272.87 L240,272.92 L240.5,272.29 L241,271.34 L241.5,271.03 L242,271.37 L242.5,272.2 L243,272.89 L243.5,273.22 L244,273.57 L244.5,274.12 L245,274.26 L245.5,274.75 L246,275.77 L246.5,277.08 L247,278.24 L247.5,279.36 L248,280.8 L248.5,282.5 L249,284.03 L249.5,285.26 L250,286.45 L250.5,287.86 L251,289.36 L251.5,289.87 L252,290.7 L252.5,291.49 L253,292.95 L253.5,294.05 L254,295.52 L254.5,296.8 L255,297.71 L255.5,298.84 L256,299.76 L256.5,300.69 L257,301.68 L257.5,302.86 L258,304.45 L258.5,305.85 L259,307.51 L259.5,308.18 L260,308.73 L260.5,309.21 L261,310.3 L261.5,311.13 L262,311.89 L262.5,312.58 L263,313.82 L263.5,314.45 L264,315.23 L264.5,315.55 L265,316.03 L265.5,316.26 L266,316.79 L266.5,317.61 L267,318.69 L267.5,319.63 L268,320.21 L268.5,320.9 L269,321.52 L269.5,321.82 L270,321.87 L270.5,321.9 L271,322.39 L271.5,322.69 L272,323.46 L272.5,323.9 L273,324.92 L273.5,325.25 L274,325.38 L274.5,325.53 L275,325.88 L275.5,326.31 L276,326.61 L276.5,327.05 L277,327.35 L277.5,327.44 L278,327.68 L278.5,327.57 L279,327.86 L279.5,328.06 L280,328.99 L280.5,329.74 L281,329.84 L281.5,329.63 L282,329.71 L282.5,330.12 L283,330.36 L283.5,330.61 L284,330.58 L284.5,330.49 L285,330.85 L285.5,331.45 L286,331.41 L286.5,331.62 L287,332.04 L287.5,332.21 L288,331.92 L288.5,331.91 L289,332.22 L289.5,332.86 L290,333.23 L290.5,333.14 L291,332.59 L291.5,332.66 L292,333.56 L292.5,333.96 L293,333.9 L293.5,333.59 L294,333.7 L294.5,334.18 L295,334.15 L295.5,334.12 L296,333.73 L296.5,333.91 L297,333.46 L297.5,333.62 L298,333.58 L298.5,333.61 L299,332.91 L299.5,332.58 L300,332.59 L300.5,332.98 L301,333.22 L301.5,333.21 L302,333.05 L302.5,332.72 L303,332.46 L303.5,332.38 L304,332.23 L304.5,332.07 L305,332.2 L305.5,332.23 L306,331.81 L306.5,331.54 L307,331.9 L307.5,331.93 L308,331.49 L308.5,330.95 L309,331.18 L309.5,330.81 L310,330.61 L310.5,330.7 L311,330.93 L311.5,330.97 L312,330.95 L312.5,330.9 L313,330.51 L313.5,330.09 L314,329.97 L314.5,330.43 L315,330.8 L315.5,331.2 L316,331.06 L316.5,331.43 L317,331.2 L317.5,330.74 L318,330.33 L318.5,330.59 L319,331 L319.5,330.83 L320,330.94 L320.5,331.27 L321,331.19 L321.5,330.93 L322,331.38 L322.5,331.8 L323,332.04 L323.5,332.17 L324,332.1 L324.5,331.21 L325,330.09 L325.5,329.61 L326,329.65 L326.5,329.54 L327,329.06 L327.5,328.21 L328,327.58 L328.5,326.84 L329,326.17 L329.5,325.11 L330,324.02 L330.5,323.14 L331,322.4 L331.5,321.58 L332,320.91 L332.5,320.3 L333,320.14 L333.5,319.45 L334,318.19 L334.5,316.56 L335,315.45 L335.5,314.28 L336,313.12 L336.5,311.82 L337,309.94 L337.5,308.49 L338,307.59 L338.5,307.29 L339,305.9 L339.5,304.36 L340,302.94 L340.5,301.58 L341,300.17 L341.5,298.72 L342,297.6 L342.5,296.04 L343,294.45 L343.5,293.52 L344,292.53 L344.5,291.88 L345,291.45 L345.5,291.69 L346,291.16 L346.5,290.21 L347,289.41 L347.5,289.16 L348,289.02 L348.5,288.64 L349,288.73 L349.5,288.38 L350,288.03 L350.5,287.12 L351,286.82 L351.5,287.31 L352,287.98 L352.5,287.98 L353,287.54 L353.5,288.02 L354,288.62 L354.5,288.91 L355,289.16 L355.5,289.68 L356,290.46 L356.5,290.58 L357,291.18 L357.5,291.65 L358,292.03 L358.5,291.87 L359,292.12 L359.5,292.82 L360,293.43 L360.5,294.15 L361,294.7 L361.5,295.56 L362,296.09 L362.5,296.45 L363,296.18 L363.5,296.46 L364,297.33 L364.5,298.34 L365,298.86 L365.5,299.12 L366,299.44 L366.5,299.64 L367,300.54 L367.5,301.37 L368,301.91 L368.5,301.78 L369,302.17 L369.5,303.21 L370,304.24 L370.5,304.53 L371,304.91 L371.5,305.75 L372,306.57 L372.5,306.81 L373,307.14 L373.5,307.46 L374,307.81 L374.5,307.78 L375,308.26 L375.5,308.68 L376,309.59 L376.5,309.29 L377,309.44 L377.5,309.76 L378,310.5 L378.5,310.67 L379,310.99 L379.5,311.53 L380,311.59 L380.5,311.58 L381,311.98 L381.5,312.74 L382,313.05 L382.5,312.98 L383,312.95 L383.5,313.38 L384,313.39 L384.5,313.08 L385,313.05 L385.5,313.32 L386,313.57 L386.5,313.77 L387,314.35 L387.5,314.43 L388,314.63 L388.5,314.42 L389,314.74 L389.5,314.53 L390,314.63 L390.5,314.82 L391,315.37 L391.5,315.54 L392,315.41 L392.5,315.78 L393,316.17 L393.5,316.38 L394,316.67 L394.5,316.76 L395,316.69 L395.5,316.51 L396,317.09 L396.5,317.7 L397,318.24 L397.5,318.14 L398,317.92 L398.5,317.94 L399,318.06 L399.5,318.3 L400,318.46 L400.5,318.47 L401,318.23 L401.5,318.15 L402,318.74 L402.5,319.51 L403,319.61 L403.5,319.04 L404,317.98 L404.5,317.9 L405,318.1 L405.5,318.37 L406,318.44 L406.5,318.24 L407,318.27 L407.5,318.24 L408,318.35 L408.5,318.5 L409,318.88 L409.5,318.88 L410,318.21 L410.5,318.13 L411,318.61 L411.5,318.64 L412,318.38 L412.5,318.48 L413,318.79 L413.5,319.12 L414,319.38 L414.5,319.86 L415,320.18 L415.5,320.3 L416,320.17 L416.5,320.26 L417,320.34 L417.5,319.81 L418,319.58 L418.5,319.6 L419,320.18 L419.5,320.12 L420,320.11 L420.5,319.85 L421,320.2 L421.5,320.22 L422,319.97 L422.5,319.63 L423,319.53 L423.5,319.57 L424,319.55 L424.5,319.7 L425,320.11 L425.5,320.15 L426,319.92 L426.5,319.48 L427,319.74 L427.5,319.61 L428,319.49 L428.5,319.53 L429,320.16 L429.5,320.57 L430,320.66 L430.5,320.57 L431,320.93 L431.5,321.75 L432,322.35 L432.5,322.46 L433,322.48 L433.5,322.46 L434,322.46 L434.5,322.53 L435,322.99 L435.5,323.26 L436,323.19 L436.5,323.44 L437,324.16 L437.5,324.57 L438,324.41 L438.5,324.29 L439,324.67 L439.5,324.43 L440,324.71 L440.5,324.8 L441,325.41 L441.5,325.34 L442,325.41 L442.5,325.21 L443,325.56 L443.5,325.68 L444,325.65 L444.5,325.53 L445,325.49 L445.5,325.93 L446,326.55 L446.5,327.03 L447,327.1 L447.5,327 L448,326.97 L448.5,327.31 L449,328.02 L449.5,327.62 L450,326.38 L450.5,325.97 L451,327 L451.5,327.92 L452,328.11 L452.5,328.15 L453,328.24 L453.5,328.34 L454,328.58 L454.5,329.04 L455,329.17 L455.5,328.96 L456,329 L456.5,328.99 L457,329.45 L457.5,330.13 L458,330.24 L458.5,329.28 L459,328.57 L459.5,329.02 L460,329.88 L460.5,330.33 L461,330.14 L461.5,329.65 L462,329.76 L462.5,329.91 L463,330.22 L463.5,330.1 L464,330.47 L464.5,330.51 L465,330.77 L465.5,330.82 L466,330.47 L466.5,330.24 L467,330.17 L467.5,330.44 L468,330.67 L468.5,330.68 L469,330.34 L469.5,329.86 L470,329.85 L470.5,330.21 L471,330.27 L471.5,330.49 L472,330.53 L472.5,330.6 L473,330 L473.5,329.9 L474,330.23 L474.5,330.17 L475,330.19 L475.5,330.63 L476,331.13 L476.5,330.83 L477,330.95 L477.5,331.22 L478,330.72 L478.5,329.9 L479,329.54 L479.5,329.56 L480,328.9 L480.5,328.8 L481,328.78 L481.5,329.11 L482,328.84 L482.5,329.03 L483,328.88 L483.5,328.55 L484,328.34 L484.5,328.73 L485,328.82 L485.5,328.79 L486,328.57 L486.5,328.35 L487,328.24 L487.5,328.07 L488,328.16 L488.5,327.76 L489,327.85 L489.5,327.34 L490,327.05 L490.5,327.15 L491,327.53 L491.5,327.59 L492,327.17 L492.5,327.12 L493,326.79 L493.5,326.43 L494,326.24 L494.5,326.57" fill="none" stroke="#a5a5a5" stroke-width="2.4" stroke-linejoin="round"/>
<line x1="397" y1="382.6" x2="424.4" y2="382.6" stroke="#0f67c6" stroke-width="2.2"/>
<text x="427.2" y="387.4" font-size="13.3" fill="#111">0 min</text>
<line x1="397" y1="402.8" x2="424.4" y2="402.8" stroke="#fb7616" stroke-width="2.2"/>
<text x="428" y="407.6" font-size="13.3" fill="#111">10 min</text>
<line x1="397" y1="423" x2="424.4" y2="423" stroke="#a5a5a5" stroke-width="2.2"/>
<text x="428" y="427.8" font-size="13.3" fill="#111">15 min</text>
<text x="184.5" y="239.2" font-size="13.2" fill="#111">Fe 2p 1/2</text>
<text x="378.7" y="241.5" font-size="13.2" fill="#111">Fe 2p 3/2</text>
<line x1="212.5" y1="246.2" x2="229.45" y2="265.05" stroke="#111" stroke-width="1.3"/><path d="M234.8,271 L226.77,267.46 L232.13,262.64 Z" fill="#111"/>
<line x1="378.2" y1="251.3" x2="359.04" y2="271.94" stroke="#111" stroke-width="1.3"/><path d="M353.6,277.8 L356.4,269.49 L361.68,274.39 Z" fill="#111"/>
<line x1="340.6" y1="377.5" x2="314.51" y2="352.8" stroke="#111" stroke-width="1.3"/><path d="M308.7,347.3 L316.98,350.19 L312.03,355.41 Z" fill="#111"/>
<rect x="173.3" y="516.8" width="326.2" height="219.60000000000002" fill="none" stroke="#666" stroke-width="1.2"/>
<path d="M219.9 736.4V733.1999999999999 M266.5 736.4V733.1999999999999 M313.1 736.4V733.1999999999999 M359.7 736.4V733.1999999999999 M406.3 736.4V733.1999999999999 M452.9 736.4V733.1999999999999" stroke="#555" stroke-width="0.9"/>
<text x="173.3" y="751" font-size="12" text-anchor="middle" fill="#111">20</text>
<text x="266.5" y="751" font-size="12" text-anchor="middle" fill="#111">40</text>
<text x="359.7" y="751" font-size="12" text-anchor="middle" fill="#111">60</text>
<text x="452.9" y="751" font-size="12" text-anchor="middle" fill="#111">80</text>
<text x="326.8" y="773.3" font-size="13.5" font-weight="bold" text-anchor="middle" fill="#111">2 Tetha (Deg)</text>
<text x="119.5" y="632.5" font-size="16.3" font-weight="bold" text-anchor="middle" fill="#111" transform="rotate(-90 119.5 632.5) translate(0 5.9)">Intensity (a.u.)</text>
<path d="M173.3,697.63 L173.42,696.45 L173.53,698.71 L173.65,695.61 L173.77,698.98 L173.88,698.22 L174,697.36 L174.12,695.12 L174.23,691.86 L174.35,691.77 L174.46,699.51 L174.58,698.12 L174.7,698.26 L174.81,696.22 L174.93,702.09 L175.05,692.47 L175.16,699.07 L175.28,698.78 L175.4,701.64 L175.51,701.35 L175.63,697.21 L175.75,697.53 L175.86,698.77 L175.98,696.9 L176.1,697.29 L176.21,706.55 L176.33,698.49 L176.45,702.63 L176.56,704.51 L176.68,695.28 L176.79,706.55 L176.91,698.29 L177.03,696.28 L177.14,696.96 L177.26,698.16 L177.38,694.38 L177.49,696.65 L177.61,698.02 L177.73,695.37 L177.84,705.21 L177.96,699.32 L178.08,696.91 L178.19,697.56 L178.31,700.71 L178.43,699.6 L178.54,698.15 L178.66,699.59 L178.78,695.72 L178.89,696.42 L179.01,694.99 L179.12,697.8 L179.24,695.7 L179.36,698.26 L179.47,696.18 L179.59,698.36 L179.71,698.36 L179.82,700.75 L179.94,696.81 L180.06,698.02 L180.17,696.57 L180.29,698.24 L180.41,695.72 L180.52,695.94 L180.64,698.25 L180.76,696.51 L180.87,695.25 L180.99,706.44 L181.11,700.04 L181.22,699.06 L181.34,699.19 L181.45,696.66 L181.57,696.17 L181.69,695.69 L181.8,699.88 L181.92,696.55 L182.04,693.38 L182.15,695.22 L182.27,700.72 L182.39,695.53 L182.5,698.53 L182.62,699.22 L182.74,700.81 L182.85,696.98 L182.97,701.55 L183.09,698.81 L183.2,696.91 L183.32,699.59 L183.44,699.52 L183.55,703.63 L183.67,697.39 L183.78,698.76 L183.9,694.31 L184.02,697.83 L184.13,697.52 L184.25,699.56 L184.37,699.33 L184.48,699.98 L184.6,698.28 L184.72,696.3 L184.83,700.76 L184.95,696.91 L185.07,695.57 L185.18,695.3 L185.3,698.7 L185.42,698.33 L185.53,695.66 L185.65,705.83 L185.77,697.35 L185.88,697.79 L186,700.51 L186.11,696.98 L186.23,697.18 L186.35,697.34 L186.46,698.63 L186.58,697.79 L186.7,695.89 L186.81,700.03 L186.93,697.13 L187.05,703.64 L187.16,697.99 L187.28,694.07 L187.4,699.36 L187.51,695.01 L187.63,697.94 L187.75,698 L187.86,698.66 L187.98,700.91 L188.1,698.39 L188.21,697.59 L188.33,694.07 L188.44,706.38 L188.56,696.51 L188.68,697.76 L188.79,698.08 L188.91,698.53 L189.03,697.28 L189.14,697.26 L189.26,698.52 L189.38,697.1 L189.49,699.09 L189.61,697.18 L189.73,692.48 L189.84,696.91 L189.96,703.31 L190.08,696.51 L190.19,698.76 L190.31,693.88 L190.43,693.23 L190.54,698.54 L190.66,696.16 L190.77,696.95 L190.89,697.9 L191.01,693.66 L191.12,700.74 L191.24,693.79 L191.36,701.93 L191.47,701.01 L191.59,699.68 L191.71,701.32 L191.82,701.51 L191.94,693.55 L192.06,695.68 L192.17,700.29 L192.29,695.97 L192.41,697.81 L192.52,698.95 L192.64,698.13 L192.76,695.94 L192.87,696.24 L192.99,697.51 L193.1,697.11 L193.22,700.47 L193.34,695.66 L193.45,697.99 L193.57,701.57 L193.69,695.79 L193.8,697.64 L193.92,694.27 L194.04,698.1 L194.15,701.96 L194.27,697.91 L194.39,698.53 L194.5,697.36 L194.62,696.64 L194.74,696.29 L194.85,698.19 L194.97,698.25 L195.09,692.05 L195.2,696.64 L195.32,700.75 L195.43,698.29 L195.55,695.87 L195.67,699.23 L195.78,698.08 L195.9,703.63 L196.02,694.63 L196.13,692.96 L196.25,696.41 L196.37,696.74 L196.48,695.35 L196.6,695.72 L196.72,696.25 L196.83,697.04 L196.95,697.56 L197.07,698.31 L197.18,697.73 L197.3,695.86 L197.42,696.94 L197.53,694.42 L197.65,698.03 L197.76,697.75 L197.88,696.91 L198,697.5 L198.11,697.52 L198.23,690.51 L198.35,701.14 L198.46,696.89 L198.58,695.57 L198.7,698.42 L198.81,695.66 L198.93,700.48 L199.05,697.38 L199.16,698.86 L199.28,696.58 L199.4,701 L199.51,698.58 L199.63,695.44 L199.75,696.81 L199.86,697.38 L199.98,698.27 L200.09,697.22 L200.21,696.96 L200.33,695.53 L200.44,696.29 L200.56,695.18 L200.68,700.4 L200.79,702.32 L200.91,699.84 L201.03,697.77 L201.14,697.19 L201.26,695.93 L201.38,695.83 L201.49,703.42 L201.61,696.8 L201.73,695.12 L201.84,696.12 L201.96,698.29 L202.08,694.78 L202.19,697.3 L202.31,696.62 L202.42,701.79 L202.54,699.4 L202.66,694.05 L202.77,700.81 L202.89,693.86 L203.01,697.05 L203.12,689.84 L203.24,692.09 L203.36,691.72 L203.47,693.68 L203.59,701.38 L203.71,695.8 L203.82,695.45 L203.94,693.79 L204.06,699.17 L204.17,696.82 L204.29,698.2 L204.41,695.4 L204.52,698.21 L204.64,698.38 L204.75,696.18 L204.87,696.74 L204.99,698.15 L205.1,697.53 L205.22,697.17 L205.34,697.75 L205.45,697.31 L205.57,697.07 L205.69,699.8 L205.8,697.32 L205.92,695.45 L206.04,691.15 L206.15,695.39 L206.27,698.89 L206.39,697.12 L206.5,699.74 L206.62,696.79 L206.74,702.71 L206.85,697.36 L206.97,697.49 L207.08,697.01 L207.2,693.13 L207.32,699.03 L207.43,701.45 L207.55,696.01 L207.67,705.9 L207.78,699.04 L207.9,701.4 L208.02,697.56 L208.13,696.73 L208.25,695.68 L208.37,701.62 L208.48,695.36 L208.6,689.08 L208.72,699.88 L208.83,695.05 L208.95,695.78 L209.07,699.27 L209.18,696.04 L209.3,697.1 L209.41,697.89 L209.53,699.77 L209.65,699.75 L209.76,697.28 L209.88,698.73 L210,697.94 L210.11,699.36 L210.23,695.94 L210.35,699.8 L210.46,693.75 L210.58,701.23 L210.7,699.06 L210.81,694.41 L210.93,697.68 L211.05,693.83 L211.16,687.77 L211.28,695.91 L211.4,696.13 L211.51,697.03 L211.63,701.71 L211.74,694.47 L211.86,697.92 L211.98,697.14 L212.09,699.9 L212.21,689.63 L212.33,690.43 L212.44,696.92 L212.56,704.89 L212.68,697.01 L212.79,699.35 L212.91,698.19 L213.03,695.06 L213.14,696.35 L213.26,694.15 L213.38,696.85 L213.49,697.75 L213.61,695.55 L213.73,693.35 L213.84,698.58 L213.96,697.06 L214.07,694.89 L214.19,696.14 L214.31,697.43 L214.42,697.15 L214.54,695.7 L214.66,694.63 L214.77,697.56 L214.89,697.06 L215.01,696.62 L215.12,696.15 L215.24,699.05 L215.36,696.09 L215.47,696.33 L215.59,694.22 L215.71,697.24 L215.82,697.87 L215.94,695.43 L216.06,698.27 L216.17,698.94 L216.29,697.58 L216.4,696.85 L216.52,689.76 L216.64,698.36 L216.75,698.12 L216.87,694.6 L216.99,695.69 L217.1,695.51 L217.22,697 L217.34,692.2 L217.45,695.68 L217.57,696.21 L217.69,694.92 L217.8,695.55 L217.92,696.66 L218.04,696.17 L218.15,695.78 L218.27,695.41 L218.39,694.72 L218.5,697.11 L218.62,697.25 L218.73,694.81 L218.85,695.63 L218.97,696.4 L219.08,695.64 L219.2,699.5 L219.32,694.54 L219.43,693.47 L219.55,701.74 L219.67,694.64 L219.78,692.88 L219.9,695.66 L220.02,696.85 L220.13,694.83 L220.25,694.21 L220.37,691.88 L220.48,697.07 L220.6,695.89 L220.72,694.04 L220.83,696.69 L220.95,695.99 L221.06,694.11 L221.18,695.33 L221.3,693.93 L221.41,695.64 L221.53,694.12 L221.65,694.47 L221.76,695.55 L221.88,693.31 L222,692.05 L222.11,692.6 L222.23,695.54 L222.35,691.74 L222.46,692.26 L222.58,692.14 L222.7,698.22 L222.81,690.29 L222.93,696.67 L223.05,695.43 L223.16,690.04 L223.28,687.66 L223.39,691.9 L223.51,692.82 L223.63,690.18 L223.74,688.98 L223.86,684.93 L223.98,687.22 L224.09,689.6 L224.21,688.89 L224.33,686.11 L224.44,681.87 L224.56,681.9 L224.68,685.59 L224.79,683.84 L224.91,680.48 L225.03,678.57 L225.14,672.74 L225.26,679.8 L225.38,673.21 L225.49,669.21 L225.61,665.96 L225.72,665.75 L225.84,662.49 L225.96,661.36 L226.07,660.35 L226.19,659.02 L226.31,650.01 L226.42,654.95 L226.54,653.96 L226.66,655.05 L226.77,658.2 L226.89,657.71 L227.01,656.99 L227.12,662.79 L227.24,665.31 L227.36,663.98 L227.47,670.62 L227.59,669.33 L227.71,674.47 L227.82,677.73 L227.94,675.85 L228.05,682.58 L228.17,687.42 L228.29,682.7 L228.4,680.69 L228.52,687.07 L228.64,687.12 L228.75,688.96 L228.87,689.07 L228.99,688.15 L229.1,684.83 L229.22,688.96 L229.34,687.22 L229.45,690.83 L229.57,692.7 L229.69,687.48 L229.8,690.97 L229.92,686.42 L230.04,691.41 L230.15,690.98 L230.27,694.03 L230.38,683.15 L230.5,689 L230.62,690.16 L230.73,691.71 L230.85,692.01 L230.97,691.7 L231.08,691.71 L231.2,690.78 L231.32,692.03 L231.43,694.61 L231.55,692.56 L231.67,692.47 L231.78,695.58 L231.9,693.02 L232.02,692.05 L232.13,686.91 L232.25,686.77 L232.37,690.77 L232.48,692.33 L232.6,693.5 L232.71,693.32 L232.83,696.46 L232.95,693.59 L233.06,693.88 L233.18,692.71 L233.3,694.46 L233.41,689.11 L233.53,691.94 L233.65,691.92 L233.76,694.84 L233.88,690.76 L234,694.22 L234.11,690.48 L234.23,688.48 L234.35,698.99 L234.46,688.13 L234.58,695.81 L234.7,691.87 L234.81,691.33 L234.93,691.85 L235.04,691.67 L235.16,693.06 L235.28,692.63 L235.39,692.22 L235.51,691.18 L235.63,691.09 L235.74,691.36 L235.86,691.88 L235.98,689.4 L236.09,685.07 L236.21,692.08 L236.33,691.43 L236.44,689.79 L236.56,695.07 L236.68,691.64 L236.79,690.31 L236.91,693.2 L237.03,692.29 L237.14,692.76 L237.26,690.66 L237.37,689.96 L237.49,691.25 L237.61,690.36 L237.72,692.78 L237.84,692.5 L237.96,695.68 L238.07,690.67 L238.19,694.74 L238.31,691.97 L238.42,690.09 L238.54,694.5 L238.66,692.6 L238.77,692.07 L238.89,694.02 L239.01,693.39 L239.12,691.06 L239.24,691.47 L239.36,701.21 L239.47,691.36 L239.59,690.17 L239.7,688.37 L239.82,690.41 L239.94,691.47 L240.05,693.19 L240.17,691.24 L240.29,688.31 L240.4,697.39 L240.52,688.41 L240.64,692.29 L240.75,689.35 L240.87,689.83 L240.99,690.17 L241.1,691.06 L241.22,685.92 L241.34,687.77 L241.45,691.91 L241.57,688.87 L241.69,688.67 L241.8,691.43 L241.92,687.34 L242.03,690.97 L242.15,688.67 L242.27,690.05 L242.38,683.35 L242.5,689.44 L242.62,687.35 L242.73,680.24 L242.85,686.71 L242.97,684.33 L243.08,686.12 L243.2,682.98 L243.32,686.63 L243.43,686.94 L243.55,683.22 L243.67,682.59 L243.78,678.74 L243.9,676.28 L244.02,677.53 L244.13,677.89 L244.25,676.61 L244.36,677.49 L244.48,675.84 L244.6,672.57 L244.71,673.8 L244.83,671.04 L244.95,667.6 L245.06,660.44 L245.18,654.87 L245.3,651.17 L245.41,643.63 L245.53,638.65 L245.65,632.23 L245.76,628.5 L245.88,620.74 L246,619.04 L246.11,611.45 L246.23,609.43 L246.35,607.18 L246.46,607.55 L246.58,611.86 L246.69,616.09 L246.81,609.58 L246.93,612.24 L247.04,626.88 L247.16,639.28 L247.28,638.1 L247.39,642.17 L247.51,648.16 L247.63,653.06 L247.74,653.6 L247.86,663.44 L247.98,662.48 L248.09,666.08 L248.21,668.26 L248.33,672.84 L248.44,672.48 L248.56,668.8 L248.68,670.14 L248.79,668.56 L248.91,671.1 L249.02,668.39 L249.14,667.02 L249.26,662.67 L249.37,658.93 L249.49,657.03 L249.61,653.35 L249.72,651.13 L249.84,647.97 L249.96,645.12 L250.07,637.68 L250.19,639.25 L250.31,638.46 L250.42,630.32 L250.54,631.42 L250.66,631.86 L250.77,632.81 L250.89,635.76 L251.01,634.82 L251.12,641.53 L251.24,652.18 L251.35,648 L251.47,650.73 L251.59,655.02 L251.7,658.78 L251.82,664.37 L251.94,663.6 L252.05,670.36 L252.17,672.85 L252.29,677.42 L252.4,678.16 L252.52,674.37 L252.64,682.5 L252.75,684.24 L252.87,683.89 L252.99,683.27 L253.1,680.96 L253.22,681.88 L253.34,686.98 L253.45,683.53 L253.57,683.38 L253.68,686.73 L253.8,683.46 L253.92,685.69 L254.03,685.34 L254.15,687.38 L254.27,687.8 L254.38,686.34 L254.5,688.21 L254.62,689.18 L254.73,687.83 L254.85,690.78 L254.97,689.71 L255.08,688.9 L255.2,689.14 L255.32,687.86 L255.43,689.74 L255.55,688.94 L255.67,692.04 L255.78,691.93 L255.9,694.01 L256.01,693.56 L256.13,695.47 L256.25,692.39 L256.36,692.36 L256.48,692.43 L256.6,693.35 L256.71,691.43 L256.83,689.14 L256.95,690.27 L257.06,692.63 L257.18,689 L257.3,694.03 L257.41,692.79 L257.53,693.23 L257.65,689.18 L257.76,691.97 L257.88,692.39 L258,694.6 L258.11,692.03 L258.23,695.2 L258.34,697.09 L258.46,693.4 L258.58,693.26 L258.69,690.49 L258.81,691.31 L258.93,692.49 L259.04,696.55 L259.16,691.31 L259.28,692.03 L259.39,691.12 L259.51,690.03 L259.63,692.57 L259.74,694.93 L259.86,689.79 L259.98,690.44 L260.09,690.82 L260.21,692.5 L260.33,691.08 L260.44,692.15 L260.56,691.19 L260.67,691.06 L260.79,690.35 L260.91,699.97 L261.02,685.56 L261.14,696.61 L261.26,689.66 L261.37,694.08 L261.49,690.19 L261.61,689.79 L261.72,687.51 L261.84,688.83 L261.96,689.28 L262.07,686.88 L262.19,690.71 L262.31,690.98 L262.42,690.76 L262.54,688.34 L262.66,688.03 L262.77,690.73 L262.89,691.27 L263,684.55 L263.12,690.58 L263.24,686.19 L263.35,690.53 L263.47,689.11 L263.59,692.93 L263.7,690.08 L263.82,689.81 L263.94,686.75 L264.05,689.24 L264.17,694.06 L264.29,689.88 L264.4,690.61 L264.52,690.7 L264.64,689.59 L264.75,691.69 L264.87,693.16 L264.99,693.36 L265.1,688.84 L265.22,691.63 L265.33,690.8 L265.45,689.57 L265.57,691.88 L265.68,687.14 L265.8,689.85 L265.92,694.28 L266.03,696.35 L266.15,688.96 L266.27,686.41 L266.38,688.84 L266.5,692 L266.62,691.93 L266.73,686.2 L266.85,690.18 L266.97,690.79 L267.08,690.2 L267.2,688.06 L267.32,690.04 L267.43,692.18 L267.55,693.85 L267.66,697.98 L267.78,687.58 L267.9,691.2 L268.01,691.26 L268.13,692.08 L268.25,689.47 L268.36,697.04 L268.48,688.8 L268.6,687.7 L268.71,682.33 L268.83,692.03 L268.95,694.11 L269.06,690.77 L269.18,692.02 L269.3,692.79 L269.41,691.49 L269.53,688.58 L269.65,690.94 L269.76,692.76 L269.88,694.12 L269.99,690.53 L270.11,692.25 L270.23,690.55 L270.34,694.35 L270.46,691.1 L270.58,692.81 L270.69,691.84 L270.81,689.91 L270.93,692.68 L271.04,691.49 L271.16,691.54 L271.28,692.03 L271.39,688.48 L271.51,692.26 L271.63,691.63 L271.74,693.69 L271.86,690.15 L271.98,691.05 L272.09,691.73 L272.21,689.96 L272.32,685.68 L272.44,686.27 L272.56,687.55 L272.67,690.53 L272.79,693.07 L272.91,689.76 L273.02,689.44 L273.14,689.8 L273.26,690.8 L273.37,690.01 L273.49,690.11 L273.61,686.57 L273.72,688.48 L273.84,688.45 L273.96,686.27 L274.07,692.2 L274.19,687.82 L274.31,686.79 L274.42,687.12 L274.54,684.04 L274.65,688.25 L274.77,687.1 L274.89,685.97 L275,677.04 L275.12,687.46 L275.24,686.39 L275.35,687.09 L275.47,685.89 L275.59,686.59 L275.7,682.55 L275.82,687.8 L275.94,683.17 L276.05,682.86 L276.17,682 L276.29,681.92 L276.4,685.93 L276.52,682.88 L276.64,683.61 L276.75,678.13 L276.87,676.72 L276.98,679.14 L277.1,676.53 L277.22,676.68 L277.33,678.74 L277.45,667.16 L277.57,668.4 L277.68,666.92 L277.8,662.8 L277.92,660.13 L278.03,656.49 L278.15,658.99 L278.27,653.65 L278.38,653.26 L278.5,652.37 L278.62,652.12 L278.73,653.11 L278.85,652.69 L278.97,656.56 L279.08,659.44 L279.2,655.73 L279.31,657.65 L279.43,659.82 L279.55,662.03 L279.66,663.95 L279.78,666.73 L279.9,666.26 L280.01,670.31 L280.13,670.03 L280.25,669.51 L280.36,671.47 L280.48,674.12 L280.6,671.85 L280.71,671.61 L280.83,674.06 L280.95,678.41 L281.06,678.22 L281.18,682.53 L281.3,671.96 L281.41,674.56 L281.53,675.29 L281.64,675.81 L281.76,673.89 L281.88,676.21 L281.99,679.99 L282.11,676.87 L282.23,677.99 L282.34,676.46 L282.46,674.85 L282.58,675.95 L282.69,671 L282.81,676.29 L282.93,678.04 L283.04,676.37 L283.16,675.44 L283.28,679.5 L283.39,675.65 L283.51,676.46 L283.63,677.18 L283.74,680.4 L283.86,678.21 L283.97,679.36 L284.09,678.51 L284.21,680.41 L284.32,681.19 L284.44,682.59 L284.56,681.83 L284.67,678.8 L284.79,682.24 L284.91,682.05 L285.02,681.63 L285.14,681.81 L285.26,686.32 L285.37,684.93 L285.49,680.27 L285.61,688.49 L285.72,685.81 L285.84,682.8 L285.96,684.5 L286.07,685.62 L286.19,685.32 L286.3,692.39 L286.42,691.19 L286.54,688.84 L286.65,690.47 L286.77,689.17 L286.89,691.24 L287,697.96 L287.12,687.05 L287.24,690.4 L287.35,689.32 L287.47,688.49 L287.59,691.56 L287.7,691.98 L287.82,693.23 L287.94,692.11 L288.05,692.32 L288.17,694.22 L288.29,695.23 L288.4,690.64 L288.52,693.47 L288.63,697.41 L288.75,691.87 L288.87,693.01 L288.98,694.99 L289.1,692.04 L289.22,693.63 L289.33,699.02 L289.45,694.02 L289.57,689.12 L289.68,691.13 L289.8,693.02 L289.92,692.97 L290.03,690.74 L290.15,698.17 L290.27,693.16 L290.38,691.35 L290.5,695.89 L290.62,692.92 L290.73,692.9 L290.85,693.59 L290.96,694.51 L291.08,691.48 L291.2,695.35 L291.31,697.75 L291.43,691.89 L291.55,694.35 L291.66,691.97 L291.78,694.28 L291.9,694 L292.01,693.92 L292.13,694.81 L292.25,693.85 L292.36,694.49 L292.48,696.18 L292.6,693.49 L292.71,686.56 L292.83,695.02 L292.95,691.85 L293.06,693.87 L293.18,693.63 L293.29,695.72 L293.41,696.35 L293.53,696.2 L293.64,697.44 L293.76,695.14 L293.88,693.66 L293.99,691.95 L294.11,695.08 L294.23,696.25 L294.34,695.6 L294.46,692.65 L294.58,701.74 L294.69,696.07 L294.81,694.04 L294.93,689.47 L295.04,694.15 L295.16,692.89 L295.28,692.59 L295.39,695.6 L295.51,694.17 L295.62,695.2 L295.74,691.82 L295.86,689.27 L295.97,696.62 L296.09,693.91 L296.21,695.29 L296.32,691.45 L296.44,695.3 L296.56,695.31 L296.67,697.45 L296.79,693.03 L296.91,692.94 L297.02,693.43 L297.14,693.44 L297.26,695.08 L297.37,693.37 L297.49,693.75 L297.61,703.31 L297.72,692.63 L297.84,692.64 L297.95,692.26 L298.07,694.86 L298.19,693.51 L298.3,696.36 L298.42,694.17 L298.54,697.55 L298.65,692.81 L298.77,693.23 L298.89,695.79 L299,694.1 L299.12,688.76 L299.24,691.71 L299.35,694.2 L299.47,692.95 L299.59,695.76 L299.7,694.75 L299.82,692.93 L299.94,692.59 L300.05,687.04 L300.17,692.02 L300.28,692.05 L300.4,692.76 L300.52,688.44 L300.63,688.13 L300.75,690.5 L300.87,691.28 L300.98,694.33 L301.1,689.03 L301.22,689.76 L301.33,687.62 L301.45,687.81 L301.57,689.96 L301.68,689.17 L301.8,689.78 L301.92,686.98 L302.03,688.09 L302.15,687.99 L302.27,684.33 L302.38,686.13 L302.5,676.12 L302.61,684.42 L302.73,682.86 L302.85,681.69 L302.96,679.53 L303.08,676.93 L303.2,683.83 L303.31,674.51 L303.43,667.73 L303.55,667.99 L303.66,663.23 L303.78,661.64 L303.9,656.15 L304.01,648.06 L304.13,641.65 L304.25,640.32 L304.36,628.38 L304.48,623.8 L304.6,614.68 L304.71,613.15 L304.83,610.81 L304.94,600.52 L305.06,603.26 L305.18,603.53 L305.29,599.19 L305.41,602.48 L305.53,601.64 L305.64,601.53 L305.76,609.16 L305.88,611.81 L305.99,621.53 L306.11,630.11 L306.23,633.73 L306.34,644.05 L306.46,643.01 L306.58,653.32 L306.69,657.43 L306.81,660.5 L306.93,668.1 L307.04,669.35 L307.16,673.85 L307.27,677.91 L307.39,676.82 L307.51,680.86 L307.62,681.96 L307.74,682.96 L307.86,683.53 L307.97,685.5 L308.09,684.05 L308.21,688.12 L308.32,686.88 L308.44,690.98 L308.56,685.5 L308.67,689.29 L308.79,689.24 L308.91,688.84 L309.02,688.88 L309.14,688.45 L309.26,693.25 L309.37,690.8 L309.49,690.52 L309.6,695.14 L309.72,690.75 L309.84,689.34 L309.95,689.72 L310.07,690.33 L310.19,690.14 L310.3,691.68 L310.42,697.83 L310.54,693.03 L310.65,690.8 L310.77,687.59 L310.89,689.31 L311,695.55 L311.12,696.85 L311.24,697.08 L311.35,694.45 L311.47,694.61 L311.59,695.95 L311.7,694.39 L311.82,694.13 L311.93,699.89 L312.05,693.52 L312.17,694.32 L312.28,696.59 L312.4,695.89 L312.52,699 L312.63,703.88 L312.75,696.94 L312.87,687.21 L312.98,695.18 L313.1,694.8 L313.22,694.39 L313.33,686.15 L313.45,695.84 L313.57,697.62 L313.68,697.03 L313.8,694.85 L313.92,697 L314.03,698.61 L314.15,693.92 L314.26,693.59 L314.38,697.29 L314.5,695.6 L314.61,694.89 L314.73,694.09 L314.85,695.1 L314.96,698.47 L315.08,698.96 L315.2,695.07 L315.31,687.34 L315.43,697.25 L315.55,695.7 L315.66,698.65 L315.78,698.54 L315.9,695.82 L316.01,694.74 L316.13,692.33 L316.25,693.74 L316.36,695.49 L316.48,700.38 L316.59,695.93 L316.71,695 L316.83,696.09 L316.94,704.45 L317.06,695.54 L317.18,696.89 L317.29,695.64 L317.41,695.99 L317.53,698.66 L317.64,692.02 L317.76,698.19 L317.88,699.15 L317.99,695.05 L318.11,694.37 L318.23,694.39 L318.34,697.04 L318.46,697.31 L318.58,696.08 L318.69,696.46 L318.81,700.72 L318.92,696.36 L319.04,697.91 L319.16,696.48 L319.27,704.51 L319.39,694.18 L319.51,691.3 L319.62,692.55 L319.74,695.29 L319.86,691.62 L319.97,697.27 L320.09,696.65 L320.21,694.79 L320.32,694.52 L320.44,697.22 L320.56,695.16 L320.67,697.33 L320.79,695.28 L320.91,696.63 L321.02,696.35 L321.14,699.08 L321.25,695.55 L321.37,695.27 L321.49,689.21 L321.6,695.03 L321.72,701.05 L321.84,694.51 L321.95,692.16 L322.07,695.38 L322.19,695.16 L322.3,693.99 L322.42,696.05 L322.54,699.14 L322.65,694.4 L322.77,694.88 L322.89,696 L323,695.5 L323.12,695.72 L323.24,698.38 L323.35,697.62 L323.47,693.36 L323.58,694.53 L323.7,692.08 L323.82,695.56 L323.93,697.6 L324.05,695.43 L324.17,695.98 L324.28,694.65 L324.4,704.53 L324.52,694.52 L324.63,686.6 L324.75,697.24 L324.87,697.1 L324.98,697.41 L325.1,695.2 L325.22,695.15 L325.33,694.67 L325.45,694.13 L325.57,697.56 L325.68,696.72 L325.8,696.29 L325.91,694.4 L326.03,695.68 L326.15,694.97 L326.26,698.19 L326.38,697.55 L326.5,693.65 L326.61,699.48 L326.73,694.15 L326.85,695.72 L326.96,692.52 L327.08,698.11 L327.2,693.8 L327.31,696.44 L327.43,695.05 L327.55,696.74 L327.66,696.1 L327.78,695.73 L327.9,699.33 L328.01,694.23 L328.13,695.27 L328.24,694.21 L328.36,692.4 L328.48,694.39 L328.59,700.92 L328.71,695.23 L328.83,694.91 L328.94,694.72 L329.06,700.78 L329.18,694.94 L329.29,699.74 L329.41,696.52 L329.53,696.51 L329.64,695.65 L329.76,694.05 L329.88,692 L329.99,693.62 L330.11,693.47 L330.23,696.97 L330.34,693.7 L330.46,693.8 L330.57,694.01 L330.69,700.93 L330.81,697.09 L330.92,698.2 L331.04,704.11 L331.16,688.55 L331.27,696.49 L331.39,695.44 L331.51,696.76 L331.62,694.42 L331.74,694.65 L331.86,693.39 L331.97,696.9 L332.09,699.82 L332.21,704.07 L332.32,697.5 L332.44,699.5 L332.56,697.66 L332.67,693.9 L332.79,695.14 L332.9,698.64 L333.02,700.18 L333.14,696.2 L333.25,697.65 L333.37,695.43 L333.49,694.72 L333.6,696.02 L333.72,694.08 L333.84,695.33 L333.95,695.97 L334.07,695.79 L334.19,697.43 L334.3,696.85 L334.42,696.4 L334.54,695.65 L334.65,686.66 L334.77,697.34 L334.89,693.44 L335,694.46 L335.12,694.76 L335.23,699.32 L335.35,696.78 L335.47,695.31 L335.58,700.68 L335.7,695.29 L335.82,698.54 L335.93,697.26 L336.05,696.13 L336.17,695.12 L336.28,695.36 L336.4,697.45 L336.52,698.59 L336.63,694.59 L336.75,696.17 L336.87,695.69 L336.98,692.65 L337.1,694.98 L337.22,695.42 L337.33,698.06 L337.45,695.92 L337.56,696.59 L337.68,694.84 L337.8,697.09 L337.91,693.52 L338.03,692.72 L338.15,698.29 L338.26,696.39 L338.38,695.9 L338.5,696.39 L338.61,698.59 L338.73,697.22 L338.85,694.08 L338.96,690.53 L339.08,692.7 L339.2,693.7 L339.31,694.87 L339.43,695.51 L339.55,693.79 L339.66,696.4 L339.78,696.52 L339.89,695.06 L340.01,693.63 L340.13,701.49 L340.24,686.63 L340.36,698.49 L340.48,694.21 L340.59,698.05 L340.71,696.6 L340.83,694.56 L340.94,692.31 L341.06,696.37 L341.18,693 L341.29,696.22 L341.41,704.62 L341.53,693.06 L341.64,694.74 L341.76,694.11 L341.88,692.75 L341.99,696.99 L342.11,696.97 L342.22,692.82 L342.34,693.82 L342.46,696.35 L342.57,694.19 L342.69,696.08 L342.81,698.56 L342.92,694.15 L343.04,695.48 L343.16,686.61 L343.27,694.51 L343.39,697.28 L343.51,695.27 L343.62,700.12 L343.74,695.15 L343.86,699.42 L343.97,700.48 L344.09,696.28 L344.21,695.9 L344.32,697.28 L344.44,696.14 L344.55,692.23 L344.67,704.43 L344.79,693.14 L344.9,694.63 L345.02,696.27 L345.14,697.85 L345.25,700.13 L345.37,694.57 L345.49,690.38 L345.6,693.35 L345.72,693.52 L345.84,689.66 L345.95,696.34 L346.07,699.59 L346.19,688.87 L346.3,704.57 L346.42,697.36 L346.54,698.92 L346.65,697.34 L346.77,695.19 L346.88,691.89 L347,690.7 L347.12,694.79 L347.23,697.07 L347.35,697 L347.47,697.51 L347.58,696.89 L347.7,697.33 L347.82,695.45 L347.93,696.34 L348.05,694.73 L348.17,696.45 L348.28,695.6 L348.4,689.46 L348.52,695.69 L348.63,695.74 L348.75,693.4 L348.87,697.63 L348.98,694.07 L349.1,698.72 L349.21,696.23 L349.33,696.85 L349.45,691.14 L349.56,697.41 L349.68,696.51 L349.8,696.5 L349.91,692.67 L350.03,696.93 L350.15,695.32 L350.26,694.17 L350.38,697.21 L350.5,692.26 L350.61,695.25 L350.73,694.28 L350.85,695.65 L350.96,702.8 L351.08,694.59 L351.2,696.46 L351.31,696.21 L351.43,697.11 L351.54,694.68 L351.66,686.49 L351.78,695.28 L351.89,698.45 L352.01,694.67 L352.13,696.12 L352.24,696.33 L352.36,695.74 L352.48,696.83 L352.59,695.43 L352.71,696.68 L352.83,699.22 L352.94,695.68 L353.06,696.26 L353.18,697.93 L353.29,699.33 L353.41,691.75 L353.53,693.21 L353.64,695.58 L353.76,693.76 L353.87,697.22 L353.99,697.07 L354.11,695.43 L354.22,698.31 L354.34,696.42 L354.46,693.96 L354.57,696.2 L354.69,686.42 L354.81,698.87 L354.92,694.75 L355.04,694.69 L355.16,694.41 L355.27,692.81 L355.39,693.69 L355.51,700.18 L355.62,703.35 L355.74,694.53 L355.86,697.05 L355.97,693.24 L356.09,692.84 L356.2,694.06 L356.32,694.92 L356.44,694.02 L356.55,698.88 L356.67,696.8 L356.79,694.43 L356.9,698.44 L357.02,690.51 L357.14,696.26 L357.25,691.09 L357.37,693.16 L357.49,696.16 L357.6,694.1 L357.72,698.8 L357.84,695.45 L357.95,695.13 L358.07,693.81 L358.19,693.67 L358.3,698.67 L358.42,694.82 L358.53,692.96 L358.65,697.58 L358.77,696.23 L358.88,693.69 L359,693.97 L359.12,695.36 L359.23,695.79 L359.35,697.84 L359.47,695.49 L359.58,693.51 L359.7,695.15 L359.82,692.55 L359.93,699.24 L360.05,694.97 L360.17,687.97 L360.28,693.34 L360.4,690.37 L360.52,696.23 L360.63,695.02 L360.75,693.94 L360.86,691.97 L360.98,695.3 L361.1,693.69 L361.21,694.93 L361.33,694.95 L361.45,695.56 L361.56,698.04 L361.68,696.34 L361.8,693.18 L361.91,693.32 L362.03,695.85 L362.15,693.5 L362.26,695.34 L362.38,695.52 L362.5,690.82 L362.61,693 L362.73,692.7 L362.85,693.17 L362.96,691.43 L363.08,691.52 L363.19,689.47 L363.31,693.58 L363.43,691.01 L363.54,688.25 L363.66,692.24 L363.78,692.88 L363.89,690.78 L364.01,682.02 L364.13,693.43 L364.24,690.61 L364.36,690.81 L364.48,688.95 L364.59,692.44 L364.71,691.77 L364.83,685.39 L364.94,688.1 L365.06,687.44 L365.18,687.1 L365.29,689.05 L365.41,686.98 L365.52,686.1 L365.64,682.76 L365.76,685.49 L365.87,683 L365.99,683.14 L366.11,682.53 L366.22,677.6 L366.34,679.9 L366.46,684.26 L366.57,678.76 L366.69,676.6 L366.81,676.9 L366.92,673.7 L367.04,676.49 L367.16,674.77 L367.27,676.96 L367.39,676.83 L367.51,671.04 L367.62,668.58 L367.74,673.48 L367.85,673.88 L367.97,672.46 L368.09,673.8 L368.2,678.16 L368.32,675.42 L368.44,678.04 L368.55,676.94 L368.67,678.22 L368.79,678.5 L368.9,677.96 L369.02,680.91 L369.14,680.64 L369.25,681.7 L369.37,684.18 L369.49,690.8 L369.6,681.51 L369.72,681.67 L369.84,684.38 L369.95,687.99 L370.07,688.36 L370.18,681.25 L370.3,686.4 L370.42,690.93 L370.53,685.88 L370.65,688.43 L370.77,692.29 L370.88,687.95 L371,688.89 L371.12,687.03 L371.23,690.18 L371.35,689.34 L371.47,690.17 L371.58,688.5 L371.7,689.92 L371.82,688.4 L371.93,692.71 L372.05,688 L372.17,693.46 L372.28,691.53 L372.4,689.96 L372.51,689.34 L372.63,688.36 L372.75,688.01 L372.86,691.64 L372.98,694.03 L373.1,693.06 L373.21,691.38 L373.33,683.82 L373.45,687.07 L373.56,685.17 L373.68,689.77 L373.8,691.4 L373.91,687.72 L374.03,691.8 L374.15,690.8 L374.26,693.38 L374.38,687.16 L374.5,687.36 L374.61,689.76 L374.73,690.31 L374.84,691.82 L374.96,692.79 L375.08,689.03 L375.19,689.67 L375.31,691.83 L375.43,689.86 L375.54,689.4 L375.66,689.27 L375.78,687.09 L375.89,691.13 L376.01,692.17 L376.13,688.66 L376.24,687.74 L376.36,686.51 L376.48,683.88 L376.59,688.22 L376.71,685.12 L376.83,683.57 L376.94,681.86 L377.06,682.07 L377.17,681.3 L377.29,681.94 L377.41,681.14 L377.52,682.99 L377.64,678.88 L377.76,678.17 L377.87,679.68 L377.99,673.28 L378.11,678.28 L378.22,674.4 L378.34,678.94 L378.46,675.64 L378.57,677.51 L378.69,677.78 L378.81,678.41 L378.92,677.13 L379.04,679.44 L379.16,678.25 L379.27,680.12 L379.39,683.51 L379.5,682.2 L379.62,682.93 L379.74,680.76 L379.85,686.99 L379.97,683.75 L380.09,681.23 L380.2,685.66 L380.32,690.48 L380.44,688.25 L380.55,687.25 L380.67,688.88 L380.79,688.78 L380.9,689.25 L381.02,685.19 L381.14,688.83 L381.25,691.87 L381.37,689.94 L381.49,689.57 L381.6,680.69 L381.72,690.98 L381.83,690.95 L381.95,688.72 L382.07,690.39 L382.18,688.81 L382.3,689.76 L382.42,691.69 L382.53,689.68 L382.65,694 L382.77,690.78 L382.88,686.68 L383,690.52 L383.12,687.79 L383.23,688.58 L383.35,696.65 L383.47,682.62 L383.58,689.55 L383.7,689.53 L383.82,688.61 L383.93,688.42 L384.05,689.71 L384.16,687.17 L384.28,683.36 L384.4,689.45 L384.51,693.84 L384.63,686.13 L384.75,686.67 L384.86,687.05 L384.98,694.12 L385.1,687.33 L385.21,687.91 L385.33,690.37 L385.45,686.92 L385.56,687.81 L385.68,693.99 L385.8,688.09 L385.91,683.82 L386.03,687.06 L386.15,684.33 L386.26,689.7 L386.38,684.03 L386.49,688.23 L386.61,686.01 L386.73,690.13 L386.84,692 L386.96,687.45 L387.08,682.26 L387.19,691.36 L387.31,689.23 L387.43,688.97 L387.54,693.57 L387.66,691.27 L387.78,690.93 L387.89,688.48 L388.01,690.97 L388.13,691.66 L388.24,690.37 L388.36,691.85 L388.48,690.79 L388.59,691.91 L388.71,688.9 L388.82,690.27 L388.94,690.9 L389.06,693.66 L389.17,698.6 L389.29,693.6 L389.41,692.04 L389.52,691.98 L389.64,691.74 L389.76,693.65 L389.87,694.61 L389.99,693.71 L390.11,692.97 L390.22,694.42 L390.34,693.15 L390.46,695.64 L390.57,692.02 L390.69,693.63 L390.81,690.3 L390.92,693.79 L391.04,694.88 L391.15,694.08 L391.27,694.88 L391.39,693.93 L391.5,694.28 L391.62,694.49 L391.74,695.52 L391.85,699.46 L391.97,693.14 L392.09,690.99 L392.2,693.94 L392.32,692.22 L392.44,692.65 L392.55,695.6 L392.67,694.81 L392.79,694.55 L392.9,688.09 L393.02,690.99 L393.14,693.39 L393.25,693.68 L393.37,694.52 L393.48,694.9 L393.6,693.87 L393.72,692.67 L393.83,691.43 L393.95,688.9 L394.07,694.61 L394.18,693.84 L394.3,692.09 L394.42,694.08 L394.53,695.17 L394.65,693.97 L394.77,696.13 L394.88,694.44 L395,693.79 L395.12,692.56 L395.23,693.73 L395.35,696.39 L395.47,694.22 L395.58,702.53 L395.7,686.86 L395.81,692.92 L395.93,697.91 L396.05,695.78 L396.16,691.32 L396.28,689.33 L396.4,695.13 L396.51,693.6 L396.63,696.6 L396.75,694.53 L396.86,691.17 L396.98,694.58 L397.1,692.49 L397.21,698.9 L397.33,696.9 L397.45,690.92 L397.56,696.16 L397.68,689.05 L397.8,695.03 L397.91,692.66 L398.03,697.57 L398.14,694.38 L398.26,695.41 L398.38,693.19 L398.49,692.29 L398.61,698.07 L398.73,697.24 L398.84,696.75 L398.96,693.87 L399.08,693.12 L399.19,700.34 L399.31,693.97 L399.43,694.08 L399.54,694.83 L399.66,699.47 L399.78,690.4 L399.89,692.71 L400.01,697.13 L400.13,692.09 L400.24,695.08 L400.36,697.59 L400.47,691.96 L400.59,694.37 L400.71,695.53 L400.82,693.91 L400.94,693.75 L401.06,694.43 L401.17,694.54 L401.29,693.78 L401.41,693.65 L401.52,690.97 L401.64,694.54 L401.76,694.11 L401.87,692.15 L401.99,695.84 L402.11,697.07 L402.22,693.44 L402.34,694.46 L402.46,694.6 L402.57,686.77 L402.69,691.07 L402.8,694.77 L402.92,693.89 L403.04,693.57 L403.15,694.21 L403.27,696.4 L403.39,686.75 L403.5,690.48 L403.62,696.14 L403.74,694.12 L403.85,692.75 L403.97,694.43 L404.09,692.97 L404.2,695.67 L404.32,695.67 L404.44,693.5 L404.55,693.7 L404.67,688.45 L404.79,691.61 L404.9,693.68 L405.02,696.16 L405.13,693.58 L405.25,696.74 L405.37,696.9 L405.48,697.69 L405.6,696.58 L405.72,692.64 L405.83,695.62 L405.95,691.71 L406.07,695.42 L406.18,692.23 L406.3,691.82 L406.42,693.87 L406.53,692.63 L406.65,695.61 L406.77,694.36 L406.88,693.74 L407,694.21 L407.12,695.23 L407.23,697.49 L407.35,693.22 L407.46,695.63 L407.58,691.93 L407.7,694.95 L407.81,691.33 L407.93,693.26 L408.05,693.28 L408.16,694.42 L408.28,690.67 L408.4,693.52 L408.51,693.59 L408.63,692.41 L408.75,695.13 L408.86,694.7 L408.98,693.23 L409.1,693.9 L409.21,695.7 L409.33,695.37 L409.45,688.09 L409.56,692.12 L409.68,692.21 L409.79,692.47 L409.91,693.1 L410.03,694.94 L410.14,691.58 L410.26,695.69 L410.38,694.9 L410.49,691.22 L410.61,693.1 L410.73,691.8 L410.84,693.22 L410.96,694.69 L411.08,693.56 L411.19,686.59 L411.31,693.89 L411.43,695.76 L411.54,696.16 L411.66,693.85 L411.78,692.55 L411.89,694.59 L412.01,692 L412.12,692 L412.24,692.83 L412.36,690.43 L412.47,694.57 L412.59,690.3 L412.71,697.13 L412.82,691.65 L412.94,691.74 L413.06,691.61 L413.17,692.61 L413.29,693.07 L413.41,692.34 L413.52,687.72 L413.64,692.11 L413.76,685.76 L413.87,691.94 L413.99,690.74 L414.11,694.85 L414.22,690.16 L414.34,694.87 L414.45,690.34 L414.57,692.53 L414.69,690.99 L414.8,692.63 L414.92,686.17 L415.04,692.36 L415.15,699.05 L415.27,686.66 L415.39,690.91 L415.5,688.1 L415.62,690.18 L415.74,693.32 L415.85,687.47 L415.97,686.2 L416.09,684.02 L416.2,690.31 L416.32,689.94 L416.44,684.49 L416.55,689.35 L416.67,688.44 L416.78,689.99 L416.9,690.25 L417.02,687.65 L417.13,684.22 L417.25,688.72 L417.37,683.51 L417.48,686.37 L417.6,684.64 L417.72,689.31 L417.83,685.86 L417.95,685.95 L418.07,684.96 L418.18,686.15 L418.3,685.03 L418.42,686.36 L418.53,685.57 L418.65,683.51 L418.77,682.75 L418.88,681.95 L419,680.86 L419.11,680.58 L419.23,679.21 L419.35,678.69 L419.46,678.32 L419.58,673.37 L419.7,676.42 L419.81,675.87 L419.93,676.05 L420.05,672.94 L420.16,672.55 L420.28,671.4 L420.4,671.81 L420.51,672.31 L420.63,670.9 L420.75,669.28 L420.86,669.77 L420.98,674.9 L421.1,668.7 L421.21,670.62 L421.33,671.17 L421.44,671.74 L421.56,673.39 L421.68,671.34 L421.79,672.89 L421.91,674.46 L422.03,670.62 L422.14,676.46 L422.26,677.77 L422.38,677.62 L422.49,673.92 L422.61,676.68 L422.73,681.56 L422.84,679.04 L422.96,679.27 L423.08,680.97 L423.19,678.94 L423.31,682.35 L423.43,685.36 L423.54,686.17 L423.66,684.31 L423.77,683.73 L423.89,677.71 L424.01,679.11 L424.12,683.96 L424.24,690.75 L424.36,684.84 L424.47,687.97 L424.59,688.8 L424.71,688.05 L424.82,688.85 L424.94,684.21 L425.06,688.56 L425.17,685.22 L425.29,682.34 L425.41,688.15 L425.52,685.37 L425.64,690.37 L425.76,686.09 L425.87,685.27 L425.99,689.17 L426.1,690.25 L426.22,689.2 L426.34,688.74 L426.45,687.55 L426.57,687.39 L426.69,686.81 L426.8,688.52 L426.92,686.13 L427.04,686.96 L427.15,690.69 L427.27,688.34 L427.39,687.34 L427.5,688.32 L427.62,686.05 L427.74,688.39 L427.85,687.76 L427.97,687.06 L428.09,687.25 L428.2,687.68 L428.32,689.92 L428.43,685.38 L428.55,687.52 L428.67,691 L428.78,689.59 L428.9,692.22 L429.02,691.95 L429.13,686.09 L429.25,683.18 L429.37,684.08 L429.48,679.88 L429.6,685.33 L429.72,684.97 L429.83,683.74 L429.95,685.66 L430.07,683.46 L430.18,676.33 L430.3,681.55 L430.42,678.73 L430.53,685.05 L430.65,682.77 L430.76,683.17 L430.88,678.48 L431,677.38 L431.11,679.86 L431.23,678.32 L431.35,676.15 L431.46,681.25 L431.58,679.18 L431.7,679.81 L431.81,680.53 L431.93,679.82 L432.05,675.86 L432.16,679.7 L432.28,679.2 L432.4,680 L432.51,680.33 L432.63,679.14 L432.75,680.43 L432.86,678.67 L432.98,676.6 L433.09,679.87 L433.21,677.03 L433.33,679.11 L433.44,680.81 L433.56,681.52 L433.68,684.67 L433.79,685.54 L433.91,684.73 L434.03,681.26 L434.14,683.53 L434.26,685.5 L434.38,686.92 L434.49,688.76 L434.61,685.32 L434.73,685.19 L434.84,690.31 L434.96,685.18 L435.08,685.97 L435.19,683.2 L435.31,685.86 L435.42,688.71 L435.54,685.57 L435.66,688.83 L435.77,688.36 L435.89,687.87 L436.01,688.24 L436.12,687.13 L436.24,688.26 L436.36,686.73 L436.47,684.27 L436.59,687.94 L436.71,684.48 L436.82,686.89 L436.94,675.94 L437.06,690.43 L437.17,685.34 L437.29,674.9 L437.41,684.03 L437.52,682.59 L437.64,681.58 L437.75,684.21 L437.87,683.55 L437.99,678.99 L438.1,679.8 L438.22,679.28 L438.34,679.18 L438.45,679.64 L438.57,676.67 L438.69,680.93 L438.8,674.51 L438.92,674.96 L439.04,676.92 L439.15,675.25 L439.27,671.65 L439.39,676.28 L439.5,675.58 L439.62,675.65 L439.74,672.94 L439.85,675.8 L439.97,672.73 L440.08,675.47 L440.2,675.85 L440.32,681.8 L440.43,678.19 L440.55,680.46 L440.67,678.93 L440.78,679.84 L440.9,675.6 L441.02,683.41 L441.13,680.09 L441.25,680.69 L441.37,683.83 L441.48,685.93 L441.6,687.22 L441.72,683.48 L441.83,684.79 L441.95,687.32 L442.07,687.98 L442.18,687.14 L442.3,686.69 L442.41,685.08 L442.53,685.85 L442.65,685.57 L442.76,690.64 L442.88,689.44 L443,687.12 L443.11,692.07 L443.23,689.88 L443.35,691.27 L443.46,687.25 L443.58,687.9 L443.7,689.07 L443.81,691.01 L443.93,693.14 L444.05,686.88 L444.16,689.57 L444.28,689.89 L444.4,684.9 L444.51,689.13 L444.63,691.14 L444.74,693.26 L444.86,693.63 L444.98,689.59 L445.09,686.75 L445.21,692.25 L445.33,691.27 L445.44,696.38 L445.56,690.79 L445.68,690.67 L445.79,690.8 L445.91,691.66 L446.03,690.66 L446.14,692.47 L446.26,690.58 L446.38,692.26 L446.49,691.93 L446.61,694.39 L446.73,694.04 L446.84,690.99 L446.96,691.46 L447.07,692.81 L447.19,692.97 L447.31,689.73 L447.42,693.76 L447.54,694.93 L447.66,688.66 L447.77,697.55 L447.89,694.5 L448.01,690.11 L448.12,693.42 L448.24,697.31 L448.36,691.12 L448.47,693.24 L448.59,687.17 L448.71,690.61 L448.82,692.49 L448.94,695.51 L449.06,691.86 L449.17,702.11 L449.29,693.13 L449.4,694.87 L449.52,696.56 L449.64,693.28 L449.75,693.66 L449.87,692.38 L449.99,695.26 L450.1,694.07 L450.22,688.76 L450.34,693.87 L450.45,693.53 L450.57,695.07 L450.69,691.36 L450.8,694.62 L450.92,690.88 L451.04,693.66 L451.15,694.44 L451.27,694.65 L451.39,690.75 L451.5,694.62 L451.62,693.44 L451.73,691.92 L451.85,691.85 L451.97,695.58 L452.08,690.32 L452.2,691.65 L452.32,693.53 L452.43,695.4 L452.55,693.66 L452.67,691.68 L452.78,694.84 L452.9,693.5 L453.02,692.81 L453.13,692.13 L453.25,694.01 L453.37,695.06 L453.48,694.25 L453.6,693.5 L453.72,699.86 L453.83,694.67 L453.95,701.57 L454.06,688.17 L454.18,696.01 L454.3,691.95 L454.41,693.28 L454.53,695.62 L454.65,692.32 L454.76,693.18 L454.88,696.86 L455,692.36 L455.11,688.58 L455.23,692.87 L455.35,702.39 L455.46,692.65 L455.58,687.44 L455.7,693.95 L455.81,691.93 L455.93,694.13 L456.05,692.65 L456.16,696.77 L456.28,693.89 L456.39,696.18 L456.51,695.92 L456.63,693.11 L456.74,696.87 L456.86,691.54 L456.98,693.09 L457.09,689.91 L457.21,693.55 L457.33,693.44 L457.44,691.94 L457.56,692.84 L457.68,689.39 L457.79,695.12 L457.91,697.23 L458.03,694.98 L458.14,690.88 L458.26,694.29 L458.38,690.85 L458.49,692.35 L458.61,694.45 L458.72,690.57 L458.84,697.14 L458.96,693.14 L459.07,693 L459.19,692.21 L459.31,692.93 L459.42,691.18 L459.54,692 L459.66,690.15 L459.77,695.17 L459.89,693.02 L460.01,693.75 L460.12,694.23 L460.24,693.14 L460.36,692.71 L460.47,693.8 L460.59,694.67 L460.71,693.57 L460.82,692.95 L460.94,692.12 L461.05,694.65 L461.17,696.98 L461.29,692.57 L461.4,691.88 L461.52,690.71 L461.64,693.61 L461.75,693.71 L461.87,693.32 L461.99,693.63 L462.1,696.65 L462.22,696.24 L462.34,694.37 L462.45,701.26 L462.57,692.24 L462.69,697.83 L462.8,698.84 L462.92,693.2 L463.04,692.51 L463.15,693.92 L463.27,695.41 L463.38,692.13 L463.5,691.94 L463.62,693.35 L463.73,694.47 L463.85,694.2 L463.97,692.22 L464.08,692.12 L464.2,693.5 L464.32,693.53 L464.43,695.83 L464.55,690.58 L464.67,695.07 L464.78,694.47 L464.9,693.42 L465.02,694.12 L465.13,693.03 L465.25,699.37 L465.37,692.96 L465.48,687.92 L465.6,692.05 L465.71,699.57 L465.83,691.94 L465.95,691.47 L466.06,691.65 L466.18,689.98 L466.3,691.84 L466.41,692.96 L466.53,691.21 L466.65,694.76 L466.76,689.72 L466.88,692.29 L467,691.85 L467.11,692.09 L467.23,686.82 L467.35,690.48 L467.46,695.11 L467.58,691.86 L467.7,689.17 L467.81,690.9 L467.93,694.71 L468.04,689.72 L468.16,686.49 L468.28,690.42 L468.39,690.83 L468.51,693.5 L468.63,681.59 L468.74,689.79 L468.86,690.78 L468.98,688.94 L469.09,688.58 L469.21,687.57 L469.33,688.05 L469.44,688.82 L469.56,690.77 L469.68,685.9 L469.79,689.17 L469.91,686.2 L470.03,687.48 L470.14,688.63 L470.26,685.61 L470.37,684.95 L470.49,688.43 L470.61,687.71 L470.72,683.16 L470.84,685.99 L470.96,686.81 L471.07,688.24 L471.19,685.6 L471.31,684.72 L471.42,682.48 L471.54,685.26 L471.66,679.73 L471.77,681.36 L471.89,682.91 L472.01,679.77 L472.12,683.97 L472.24,681.72 L472.36,679.94 L472.47,682.94 L472.59,678.98 L472.7,682.75 L472.82,682.63 L472.94,681.53 L473.05,682.53 L473.17,682.59 L473.29,681.5 L473.4,684.65 L473.52,679.68 L473.64,678.07 L473.75,684.17 L473.87,685.79 L473.99,684.51 L474.1,685.15 L474.22,692.95 L474.34,685.92 L474.45,688.02 L474.57,688.47 L474.69,685.17 L474.8,687.37 L474.92,695.58 L475.03,688.67 L475.15,688.38 L475.27,692.75 L475.38,687.53 L475.5,688.82 L475.62,693.7 L475.73,686.4 L475.85,689.01 L475.97,688.11 L476.08,692.9 L476.2,688.58 L476.32,691.54 L476.43,688.88 L476.55,689.85 L476.67,691.54 L476.78,691.69 L476.9,687.88 L477.02,693.29 L477.13,690.88 L477.25,692.8 L477.36,691.15 L477.48,692.44 L477.6,690.75 L477.71,690.44 L477.83,692.14 L477.95,689.86 L478.06,691.9 L478.18,693.52 L478.3,694 L478.41,692.12 L478.53,692.46 L478.65,692.84 L478.76,690.87 L478.88,691.6 L479,691.58 L479.11,693.58 L479.23,694.08 L479.35,690.91 L479.46,692.84 L479.58,693.65 L479.69,693.82 L479.81,694.7 L479.93,701.91 L480.04,693.09 L480.16,694.21 L480.28,693.75 L480.39,693.6 L480.51,693.2 L480.63,689.43 L480.74,693.66 L480.86,694.49 L480.98,692.73 L481.09,692.65 L481.21,689.74 L481.33,694.53 L481.44,693.17 L481.56,695.45 L481.68,692.62 L481.79,695.34 L481.91,697.4 L482.02,692.68 L482.14,693.39 L482.26,692.19 L482.37,695.87 L482.49,691.82 L482.61,697.37 L482.72,693.33 L482.84,691.94 L482.96,702.57 L483.07,695.24 L483.19,694.29 L483.31,693.81 L483.42,695.08 L483.54,694.53 L483.66,695.62 L483.77,696.01 L483.89,691.32 L484.01,691.4 L484.12,689.56 L484.24,693.44 L484.35,694.43 L484.47,692.43 L484.59,692.51 L484.7,689.57 L484.82,694.45 L484.94,692.07 L485.05,692.71 L485.17,696.69 L485.29,693.18 L485.4,692.75 L485.52,692.95 L485.64,693.21 L485.75,695.12 L485.87,693.04 L485.99,693.75 L486.1,690.87 L486.22,694.24 L486.34,696.94 L486.45,692.65 L486.57,693.85 L486.68,693.83 L486.8,694 L486.92,694 L487.03,702.11 L487.15,694.74 L487.27,690.22 L487.38,695.23 L487.5,695.08 L487.62,689.11 L487.73,694.6 L487.85,693.99 L487.97,695.57 L488.08,693.5 L488.2,695.94 L488.32,697.11 L488.43,695.87 L488.55,691.61 L488.67,694.12 L488.78,693.47 L488.9,696.73 L489.01,692.76 L489.13,691.13 L489.25,693.22 L489.36,694.08 L489.48,692.17 L489.6,695.55 L489.71,693.99 L489.83,695 L489.95,697.62 L490.06,698.04 L490.18,689.2 L490.3,693.43 L490.41,695.3 L490.53,691.87 L490.65,693.86 L490.76,695.81 L490.88,695.6 L491,695.09 L491.11,694.82 L491.23,697.64 L491.34,693.61 L491.46,694.43 L491.58,695.4 L491.69,696.31 L491.81,689.81 L491.93,692.25 L492.04,693.34 L492.16,694.34 L492.28,694.59 L492.39,695.75 L492.51,695.55 L492.63,693.61 L492.74,695.23 L492.86,690.6 L492.98,693.22 L493.09,690.4 L493.21,695.68 L493.33,693.49 L493.44,689.16 L493.56,693.78 L493.67,693.34 L493.79,693.49 L493.91,695.69 L494.02,685.05 L494.14,694.2 L494.26,691.03 L494.37,694.59 L494.49,692.68 L494.61,694.31 L494.72,691.24 L494.84,694.2 L494.96,695.47 L495.07,691.61 L495.19,694.63 L495.31,695.06 L495.42,684.83 L495.54,693.55 L495.66,692.17 L495.77,692.75 L495.89,694.84 L496,695.17 L496.12,695.09 L496.24,694.78 L496.35,696.04 L496.47,697.17 L496.59,695.19 L496.7,696.32 L496.82,694.52 L496.94,694.06 L497.05,694.31 L497.17,695.12 L497.29,692.12 L497.4,695.22 L497.52,696.08 L497.64,697.85 L497.75,686.53 L497.87,691.12 L497.99,690.96 L498.1,694.89 L498.22,692.51 L498.33,686.85 L498.45,694.02 L498.57,693.96 L498.68,693.13 L498.8,697.08 L498.92,691.76 L499.03,688.04 L499.15,695.49 L499.27,693.45 L499.38,694.19" fill="none" stroke="#1c1c1c" stroke-width="0.5" stroke-linejoin="round"/>
<rect x="170.4" y="786.2" width="328.79999999999995" height="36.89999999999998" fill="none" stroke="#4a4a4a" stroke-width="1.3"/>
<line x1="170.4" y1="805.9" x2="499.2" y2="805.9" stroke="#4a4a4a" stroke-width="1.3"/>
<line x1="226.9" y1="787" x2="226.9" y2="805.2" stroke="#1a6fd6" stroke-width="2"/>
<line x1="244.7" y1="787" x2="244.7" y2="805.2" stroke="#1a6fd6" stroke-width="2"/>
<line x1="252.1" y1="787" x2="252.1" y2="805.2" stroke="#1a6fd6" stroke-width="2"/>
<line x1="263.1" y1="787" x2="263.1" y2="805.2" stroke="#1a6fd6" stroke-width="2"/>
<line x1="303.7" y1="787" x2="303.7" y2="805.2" stroke="#1a6fd6" stroke-width="2"/>
<line x1="367.3" y1="787" x2="367.3" y2="805.2" stroke="#1a6fd6" stroke-width="2"/>
<line x1="374.1" y1="787" x2="374.1" y2="805.2" stroke="#1a6fd6" stroke-width="2"/>
<line x1="412.5" y1="787" x2="412.5" y2="805.2" stroke="#1a6fd6" stroke-width="2"/>
<line x1="433.7" y1="787" x2="433.7" y2="805.2" stroke="#1a6fd6" stroke-width="2"/>
<line x1="466.1" y1="787" x2="466.1" y2="805.2" stroke="#1a6fd6" stroke-width="2"/>
<line x1="221.8" y1="806.6" x2="221.8" y2="822.4" stroke="#3cb035" stroke-width="2"/>
<line x1="282.7" y1="806.6" x2="282.7" y2="822.4" stroke="#3cb035" stroke-width="2"/>
<line x1="361.3" y1="806.6" x2="361.3" y2="822.4" stroke="#3cb035" stroke-width="2"/>
<line x1="380.4" y1="806.6" x2="380.4" y2="822.4" stroke="#3cb035" stroke-width="2"/>
<line x1="429.5" y1="806.6" x2="429.5" y2="822.4" stroke="#3cb035" stroke-width="2"/>
<text x="91.1" y="800" font-family="Liberation Serif" font-size="13.4" fill="#1a6bd2" stroke="#1a6bd2" stroke-width="0.35">Fe<tspan font-size="8.5">2</tspan>O<tspan font-size="8.5">3</tspan></text>
<text x="91.1" y="819.3" font-family="Liberation Serif" font-size="13.4" fill="#34a834" stroke="#34a834" stroke-width="0.35">FeCO<tspan font-size="8.5">3</tspan></text>
<text x="291.4" y="849" font-family="Liberation Serif" font-weight="bold" font-size="13" text-anchor="middle" fill="#111">(c)</text>
</svg>
</body></html>
